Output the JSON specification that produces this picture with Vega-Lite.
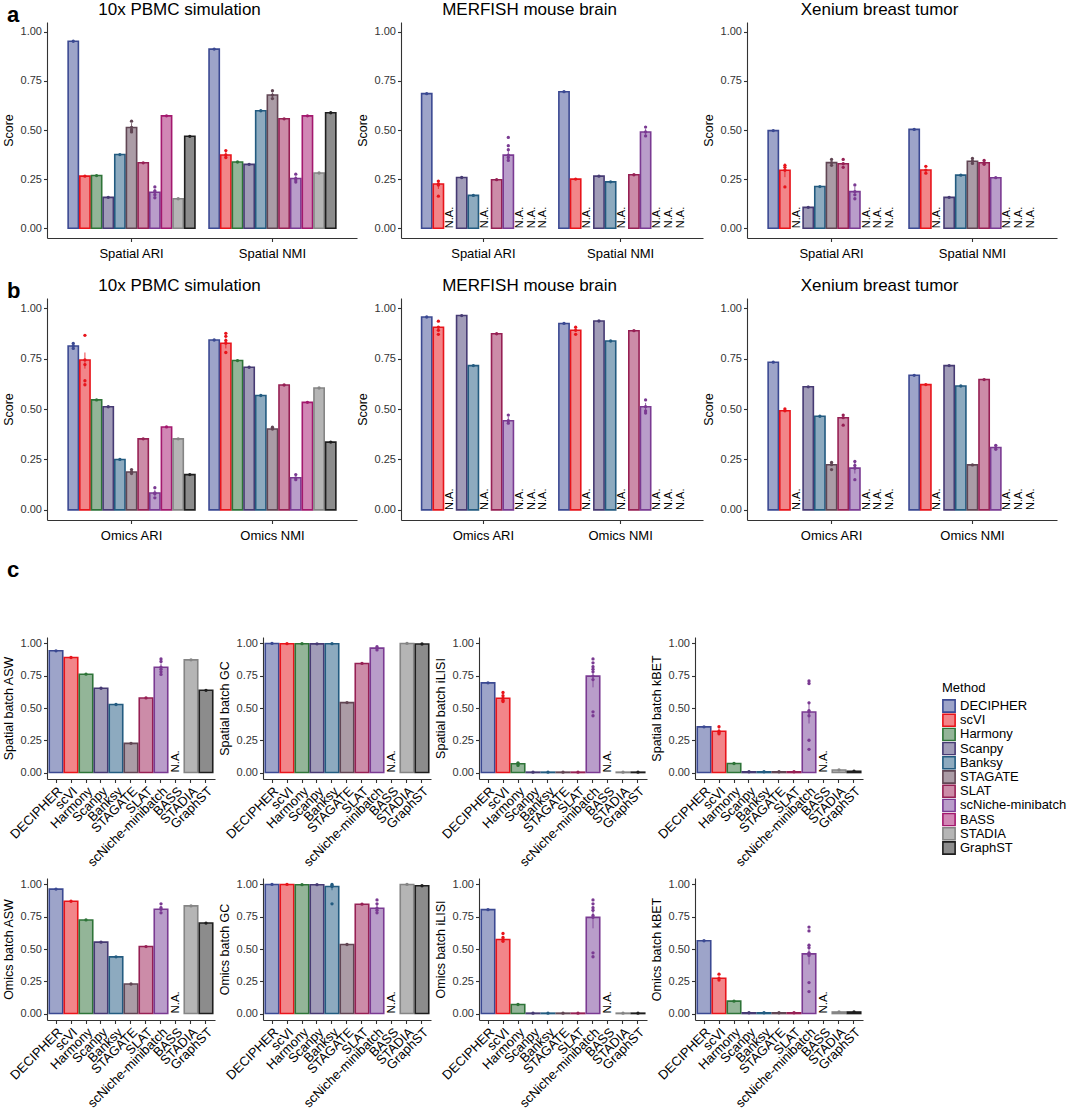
{
  "$schema": "https://vega.github.io/schema/vega-lite/v6.json",
  "background": "white",
  "padding": {"left": 2, "top": 1, "right": 4, "bottom": 4},
  "data": {"name": "scores"},
  "datasets": {
    "scores": [
      {"panel": "a", "dataset": "10x PBMC simulation", "metric": "Spatial ARI", "method": "DECIPHER", "score": 0.952, "kind": "bar"},
      {"panel": "a", "dataset": "10x PBMC simulation", "metric": "Spatial ARI", "method": "scVI", "score": 0.265, "kind": "bar"},
      {"panel": "a", "dataset": "10x PBMC simulation", "metric": "Spatial ARI", "method": "Harmony", "score": 0.268, "kind": "bar"},
      {"panel": "a", "dataset": "10x PBMC simulation", "metric": "Spatial ARI", "method": "Scanpy", "score": 0.157, "kind": "bar"},
      {"panel": "a", "dataset": "10x PBMC simulation", "metric": "Spatial ARI", "method": "Banksy", "score": 0.375, "kind": "bar"},
      {"panel": "a", "dataset": "10x PBMC simulation", "metric": "Spatial ARI", "method": "STAGATE", "score": 0.513, "lo": 0.49, "hi": 0.535, "kind": "bar"},
      {"panel": "a", "dataset": "10x PBMC simulation", "metric": "Spatial ARI", "method": "SLAT", "score": 0.333, "kind": "bar"},
      {"panel": "a", "dataset": "10x PBMC simulation", "metric": "Spatial ARI", "method": "scNiche-minibatch", "score": 0.183, "lo": 0.165, "hi": 0.2, "kind": "bar"},
      {"panel": "a", "dataset": "10x PBMC simulation", "metric": "Spatial ARI", "method": "BASS", "score": 0.572, "kind": "bar"},
      {"panel": "a", "dataset": "10x PBMC simulation", "metric": "Spatial ARI", "method": "STADIA", "score": 0.15, "kind": "bar"},
      {"panel": "a", "dataset": "10x PBMC simulation", "metric": "Spatial ARI", "method": "GraphST", "score": 0.468, "kind": "bar"},
      {"panel": "a", "dataset": "10x PBMC simulation", "metric": "Spatial NMI", "method": "DECIPHER", "score": 0.912, "kind": "bar"},
      {"panel": "a", "dataset": "10x PBMC simulation", "metric": "Spatial NMI", "method": "scVI", "score": 0.373, "lo": 0.36, "hi": 0.39, "kind": "bar"},
      {"panel": "a", "dataset": "10x PBMC simulation", "metric": "Spatial NMI", "method": "Harmony", "score": 0.337, "kind": "bar"},
      {"panel": "a", "dataset": "10x PBMC simulation", "metric": "Spatial NMI", "method": "Scanpy", "score": 0.325, "kind": "bar"},
      {"panel": "a", "dataset": "10x PBMC simulation", "metric": "Spatial NMI", "method": "Banksy", "score": 0.598, "kind": "bar"},
      {"panel": "a", "dataset": "10x PBMC simulation", "metric": "Spatial NMI", "method": "STAGATE", "score": 0.678, "lo": 0.665, "hi": 0.69, "kind": "bar"},
      {"panel": "a", "dataset": "10x PBMC simulation", "metric": "Spatial NMI", "method": "SLAT", "score": 0.557, "kind": "bar"},
      {"panel": "a", "dataset": "10x PBMC simulation", "metric": "Spatial NMI", "method": "scNiche-minibatch", "score": 0.253, "lo": 0.24, "hi": 0.265, "kind": "bar"},
      {"panel": "a", "dataset": "10x PBMC simulation", "metric": "Spatial NMI", "method": "BASS", "score": 0.572, "kind": "bar"},
      {"panel": "a", "dataset": "10x PBMC simulation", "metric": "Spatial NMI", "method": "STADIA", "score": 0.281, "kind": "bar"},
      {"panel": "a", "dataset": "10x PBMC simulation", "metric": "Spatial NMI", "method": "GraphST", "score": 0.588, "kind": "bar"},
      {"panel": "a", "dataset": "10x PBMC simulation", "metric": "Spatial ARI", "method": "STAGATE", "score": 0.545, "kind": "rep"},
      {"panel": "a", "dataset": "10x PBMC simulation", "metric": "Spatial ARI", "method": "STAGATE", "score": 0.49, "kind": "rep"},
      {"panel": "a", "dataset": "10x PBMC simulation", "metric": "Spatial ARI", "method": "STAGATE", "score": 0.5, "kind": "rep"},
      {"panel": "a", "dataset": "10x PBMC simulation", "metric": "Spatial ARI", "method": "scNiche-minibatch", "score": 0.21, "kind": "rep"},
      {"panel": "a", "dataset": "10x PBMC simulation", "metric": "Spatial ARI", "method": "scNiche-minibatch", "score": 0.155, "kind": "rep"},
      {"panel": "a", "dataset": "10x PBMC simulation", "metric": "Spatial ARI", "method": "scNiche-minibatch", "score": 0.17, "kind": "rep"},
      {"panel": "a", "dataset": "10x PBMC simulation", "metric": "Spatial ARI", "method": "scNiche-minibatch", "score": 0.19, "kind": "rep"},
      {"panel": "a", "dataset": "10x PBMC simulation", "metric": "Spatial NMI", "method": "scVI", "score": 0.395, "kind": "rep"},
      {"panel": "a", "dataset": "10x PBMC simulation", "metric": "Spatial NMI", "method": "scVI", "score": 0.36, "kind": "rep"},
      {"panel": "a", "dataset": "10x PBMC simulation", "metric": "Spatial NMI", "method": "STAGATE", "score": 0.7, "kind": "rep"},
      {"panel": "a", "dataset": "10x PBMC simulation", "metric": "Spatial NMI", "method": "STAGATE", "score": 0.66, "kind": "rep"},
      {"panel": "a", "dataset": "10x PBMC simulation", "metric": "Spatial NMI", "method": "scNiche-minibatch", "score": 0.275, "kind": "rep"},
      {"panel": "a", "dataset": "10x PBMC simulation", "metric": "Spatial NMI", "method": "scNiche-minibatch", "score": 0.235, "kind": "rep"},
      {"panel": "a", "dataset": "10x PBMC simulation", "metric": "Spatial NMI", "method": "scNiche-minibatch", "score": 0.245, "kind": "rep"},

      {"panel": "a", "dataset": "MERFISH mouse brain", "metric": "Spatial ARI", "method": "DECIPHER", "score": 0.685, "kind": "bar"},
      {"panel": "a", "dataset": "MERFISH mouse brain", "metric": "Spatial ARI", "method": "scVI", "score": 0.225, "lo": 0.2, "hi": 0.245, "kind": "bar"},
      {"panel": "a", "dataset": "MERFISH mouse brain", "metric": "Spatial ARI", "method": "Harmony", "kind": "na"},
      {"panel": "a", "dataset": "MERFISH mouse brain", "metric": "Spatial ARI", "method": "Scanpy", "score": 0.258, "kind": "bar"},
      {"panel": "a", "dataset": "MERFISH mouse brain", "metric": "Spatial ARI", "method": "Banksy", "score": 0.167, "kind": "bar"},
      {"panel": "a", "dataset": "MERFISH mouse brain", "metric": "Spatial ARI", "method": "STAGATE", "kind": "na"},
      {"panel": "a", "dataset": "MERFISH mouse brain", "metric": "Spatial ARI", "method": "SLAT", "score": 0.247, "kind": "bar"},
      {"panel": "a", "dataset": "MERFISH mouse brain", "metric": "Spatial ARI", "method": "scNiche-minibatch", "score": 0.372, "lo": 0.35, "hi": 0.395, "kind": "bar"},
      {"panel": "a", "dataset": "MERFISH mouse brain", "metric": "Spatial ARI", "method": "BASS", "kind": "na"},
      {"panel": "a", "dataset": "MERFISH mouse brain", "metric": "Spatial ARI", "method": "STADIA", "kind": "na"},
      {"panel": "a", "dataset": "MERFISH mouse brain", "metric": "Spatial ARI", "method": "GraphST", "kind": "na"},
      {"panel": "a", "dataset": "MERFISH mouse brain", "metric": "Spatial NMI", "method": "DECIPHER", "score": 0.695, "kind": "bar"},
      {"panel": "a", "dataset": "MERFISH mouse brain", "metric": "Spatial NMI", "method": "scVI", "score": 0.25, "kind": "bar"},
      {"panel": "a", "dataset": "MERFISH mouse brain", "metric": "Spatial NMI", "method": "Harmony", "kind": "na"},
      {"panel": "a", "dataset": "MERFISH mouse brain", "metric": "Spatial NMI", "method": "Scanpy", "score": 0.265, "kind": "bar"},
      {"panel": "a", "dataset": "MERFISH mouse brain", "metric": "Spatial NMI", "method": "Banksy", "score": 0.236, "kind": "bar"},
      {"panel": "a", "dataset": "MERFISH mouse brain", "metric": "Spatial NMI", "method": "STAGATE", "kind": "na"},
      {"panel": "a", "dataset": "MERFISH mouse brain", "metric": "Spatial NMI", "method": "SLAT", "score": 0.272, "kind": "bar"},
      {"panel": "a", "dataset": "MERFISH mouse brain", "metric": "Spatial NMI", "method": "scNiche-minibatch", "score": 0.49, "lo": 0.475, "hi": 0.505, "kind": "bar"},
      {"panel": "a", "dataset": "MERFISH mouse brain", "metric": "Spatial NMI", "method": "BASS", "kind": "na"},
      {"panel": "a", "dataset": "MERFISH mouse brain", "metric": "Spatial NMI", "method": "STADIA", "kind": "na"},
      {"panel": "a", "dataset": "MERFISH mouse brain", "metric": "Spatial NMI", "method": "GraphST", "kind": "na"},
      {"panel": "a", "dataset": "MERFISH mouse brain", "metric": "Spatial ARI", "method": "scVI", "score": 0.24, "kind": "rep"},
      {"panel": "a", "dataset": "MERFISH mouse brain", "metric": "Spatial ARI", "method": "scVI", "score": 0.163, "kind": "rep"},
      {"panel": "a", "dataset": "MERFISH mouse brain", "metric": "Spatial ARI", "method": "scVI", "score": 0.22, "kind": "rep"},
      {"panel": "a", "dataset": "MERFISH mouse brain", "metric": "Spatial ARI", "method": "scNiche-minibatch", "score": 0.462, "kind": "rep"},
      {"panel": "a", "dataset": "MERFISH mouse brain", "metric": "Spatial ARI", "method": "scNiche-minibatch", "score": 0.42, "kind": "rep"},
      {"panel": "a", "dataset": "MERFISH mouse brain", "metric": "Spatial ARI", "method": "scNiche-minibatch", "score": 0.4, "kind": "rep"},
      {"panel": "a", "dataset": "MERFISH mouse brain", "metric": "Spatial ARI", "method": "scNiche-minibatch", "score": 0.36, "kind": "rep"},
      {"panel": "a", "dataset": "MERFISH mouse brain", "metric": "Spatial ARI", "method": "scNiche-minibatch", "score": 0.345, "kind": "rep"},
      {"panel": "a", "dataset": "MERFISH mouse brain", "metric": "Spatial NMI", "method": "scNiche-minibatch", "score": 0.515, "kind": "rep"},
      {"panel": "a", "dataset": "MERFISH mouse brain", "metric": "Spatial NMI", "method": "scNiche-minibatch", "score": 0.47, "kind": "rep"},

      {"panel": "a", "dataset": "Xenium breast tumor", "metric": "Spatial ARI", "method": "DECIPHER", "score": 0.497, "kind": "bar"},
      {"panel": "a", "dataset": "Xenium breast tumor", "metric": "Spatial ARI", "method": "scVI", "score": 0.295, "lo": 0.26, "hi": 0.33, "kind": "bar"},
      {"panel": "a", "dataset": "Xenium breast tumor", "metric": "Spatial ARI", "method": "Harmony", "kind": "na"},
      {"panel": "a", "dataset": "Xenium breast tumor", "metric": "Spatial ARI", "method": "Scanpy", "score": 0.106, "kind": "bar"},
      {"panel": "a", "dataset": "Xenium breast tumor", "metric": "Spatial ARI", "method": "Banksy", "score": 0.212, "kind": "bar"},
      {"panel": "a", "dataset": "Xenium breast tumor", "metric": "Spatial ARI", "method": "STAGATE", "score": 0.334, "kind": "bar"},
      {"panel": "a", "dataset": "Xenium breast tumor", "metric": "Spatial ARI", "method": "SLAT", "score": 0.328, "kind": "bar"},
      {"panel": "a", "dataset": "Xenium breast tumor", "metric": "Spatial ARI", "method": "scNiche-minibatch", "score": 0.186, "lo": 0.165, "hi": 0.21, "kind": "bar"},
      {"panel": "a", "dataset": "Xenium breast tumor", "metric": "Spatial ARI", "method": "BASS", "kind": "na"},
      {"panel": "a", "dataset": "Xenium breast tumor", "metric": "Spatial ARI", "method": "STADIA", "kind": "na"},
      {"panel": "a", "dataset": "Xenium breast tumor", "metric": "Spatial ARI", "method": "GraphST", "kind": "na"},
      {"panel": "a", "dataset": "Xenium breast tumor", "metric": "Spatial NMI", "method": "DECIPHER", "score": 0.503, "kind": "bar"},
      {"panel": "a", "dataset": "Xenium breast tumor", "metric": "Spatial NMI", "method": "scVI", "score": 0.296, "kind": "bar"},
      {"panel": "a", "dataset": "Xenium breast tumor", "metric": "Spatial NMI", "method": "Harmony", "kind": "na"},
      {"panel": "a", "dataset": "Xenium breast tumor", "metric": "Spatial NMI", "method": "Scanpy", "score": 0.157, "kind": "bar"},
      {"panel": "a", "dataset": "Xenium breast tumor", "metric": "Spatial NMI", "method": "Banksy", "score": 0.27, "kind": "bar"},
      {"panel": "a", "dataset": "Xenium breast tumor", "metric": "Spatial NMI", "method": "STAGATE", "score": 0.341, "kind": "bar"},
      {"panel": "a", "dataset": "Xenium breast tumor", "metric": "Spatial NMI", "method": "SLAT", "score": 0.333, "kind": "bar"},
      {"panel": "a", "dataset": "Xenium breast tumor", "metric": "Spatial NMI", "method": "scNiche-minibatch", "score": 0.257, "kind": "bar"},
      {"panel": "a", "dataset": "Xenium breast tumor", "metric": "Spatial NMI", "method": "BASS", "kind": "na"},
      {"panel": "a", "dataset": "Xenium breast tumor", "metric": "Spatial NMI", "method": "STADIA", "kind": "na"},
      {"panel": "a", "dataset": "Xenium breast tumor", "metric": "Spatial NMI", "method": "GraphST", "kind": "na"},
      {"panel": "a", "dataset": "Xenium breast tumor", "metric": "Spatial ARI", "method": "scVI", "score": 0.32, "kind": "rep"},
      {"panel": "a", "dataset": "Xenium breast tumor", "metric": "Spatial ARI", "method": "scVI", "score": 0.31, "kind": "rep"},
      {"panel": "a", "dataset": "Xenium breast tumor", "metric": "Spatial ARI", "method": "scVI", "score": 0.21, "kind": "rep"},
      {"panel": "a", "dataset": "Xenium breast tumor", "metric": "Spatial ARI", "method": "STAGATE", "score": 0.35, "kind": "rep"},
      {"panel": "a", "dataset": "Xenium breast tumor", "metric": "Spatial ARI", "method": "STAGATE", "score": 0.32, "kind": "rep"},
      {"panel": "a", "dataset": "Xenium breast tumor", "metric": "Spatial ARI", "method": "SLAT", "score": 0.35, "kind": "rep"},
      {"panel": "a", "dataset": "Xenium breast tumor", "metric": "Spatial ARI", "method": "SLAT", "score": 0.31, "kind": "rep"},
      {"panel": "a", "dataset": "Xenium breast tumor", "metric": "Spatial ARI", "method": "scNiche-minibatch", "score": 0.22, "kind": "rep"},
      {"panel": "a", "dataset": "Xenium breast tumor", "metric": "Spatial ARI", "method": "scNiche-minibatch", "score": 0.17, "kind": "rep"},
      {"panel": "a", "dataset": "Xenium breast tumor", "metric": "Spatial ARI", "method": "scNiche-minibatch", "score": 0.15, "kind": "rep"},
      {"panel": "a", "dataset": "Xenium breast tumor", "metric": "Spatial NMI", "method": "scVI", "score": 0.315, "kind": "rep"},
      {"panel": "a", "dataset": "Xenium breast tumor", "metric": "Spatial NMI", "method": "scVI", "score": 0.28, "kind": "rep"},
      {"panel": "a", "dataset": "Xenium breast tumor", "metric": "Spatial NMI", "method": "STAGATE", "score": 0.355, "kind": "rep"},
      {"panel": "a", "dataset": "Xenium breast tumor", "metric": "Spatial NMI", "method": "STAGATE", "score": 0.33, "kind": "rep"},
      {"panel": "a", "dataset": "Xenium breast tumor", "metric": "Spatial NMI", "method": "SLAT", "score": 0.345, "kind": "rep"},
      {"panel": "a", "dataset": "Xenium breast tumor", "metric": "Spatial NMI", "method": "SLAT", "score": 0.325, "kind": "rep"},

      {"panel": "b", "dataset": "10x PBMC simulation", "metric": "Omics ARI", "method": "DECIPHER", "score": 0.812, "kind": "bar"},
      {"panel": "b", "dataset": "10x PBMC simulation", "metric": "Omics ARI", "method": "scVI", "score": 0.743, "lo": 0.7, "hi": 0.78, "kind": "bar"},
      {"panel": "b", "dataset": "10x PBMC simulation", "metric": "Omics ARI", "method": "Harmony", "score": 0.545, "kind": "bar"},
      {"panel": "b", "dataset": "10x PBMC simulation", "metric": "Omics ARI", "method": "Scanpy", "score": 0.511, "kind": "bar"},
      {"panel": "b", "dataset": "10x PBMC simulation", "metric": "Omics ARI", "method": "Banksy", "score": 0.25, "kind": "bar"},
      {"panel": "b", "dataset": "10x PBMC simulation", "metric": "Omics ARI", "method": "STAGATE", "score": 0.188, "kind": "bar"},
      {"panel": "b", "dataset": "10x PBMC simulation", "metric": "Omics ARI", "method": "SLAT", "score": 0.352, "kind": "bar"},
      {"panel": "b", "dataset": "10x PBMC simulation", "metric": "Omics ARI", "method": "scNiche-minibatch", "score": 0.084, "lo": 0.07, "hi": 0.1, "kind": "bar"},
      {"panel": "b", "dataset": "10x PBMC simulation", "metric": "Omics ARI", "method": "BASS", "score": 0.411, "kind": "bar"},
      {"panel": "b", "dataset": "10x PBMC simulation", "metric": "Omics ARI", "method": "STADIA", "score": 0.352, "kind": "bar"},
      {"panel": "b", "dataset": "10x PBMC simulation", "metric": "Omics ARI", "method": "GraphST", "score": 0.175, "kind": "bar"},
      {"panel": "b", "dataset": "10x PBMC simulation", "metric": "Omics NMI", "method": "DECIPHER", "score": 0.842, "kind": "bar"},
      {"panel": "b", "dataset": "10x PBMC simulation", "metric": "Omics NMI", "method": "scVI", "score": 0.826, "lo": 0.8, "hi": 0.85, "kind": "bar"},
      {"panel": "b", "dataset": "10x PBMC simulation", "metric": "Omics NMI", "method": "Harmony", "score": 0.74, "kind": "bar"},
      {"panel": "b", "dataset": "10x PBMC simulation", "metric": "Omics NMI", "method": "Scanpy", "score": 0.707, "kind": "bar"},
      {"panel": "b", "dataset": "10x PBMC simulation", "metric": "Omics NMI", "method": "Banksy", "score": 0.567, "kind": "bar"},
      {"panel": "b", "dataset": "10x PBMC simulation", "metric": "Omics NMI", "method": "STAGATE", "score": 0.401, "kind": "bar"},
      {"panel": "b", "dataset": "10x PBMC simulation", "metric": "Omics NMI", "method": "SLAT", "score": 0.619, "kind": "bar"},
      {"panel": "b", "dataset": "10x PBMC simulation", "metric": "Omics NMI", "method": "scNiche-minibatch", "score": 0.159, "kind": "bar"},
      {"panel": "b", "dataset": "10x PBMC simulation", "metric": "Omics NMI", "method": "BASS", "score": 0.533, "kind": "bar"},
      {"panel": "b", "dataset": "10x PBMC simulation", "metric": "Omics NMI", "method": "STADIA", "score": 0.604, "kind": "bar"},
      {"panel": "b", "dataset": "10x PBMC simulation", "metric": "Omics NMI", "method": "GraphST", "score": 0.336, "kind": "bar"},
      {"panel": "b", "dataset": "10x PBMC simulation", "metric": "Omics ARI", "method": "DECIPHER", "score": 0.825, "kind": "rep"},
      {"panel": "b", "dataset": "10x PBMC simulation", "metric": "Omics ARI", "method": "DECIPHER", "score": 0.8, "kind": "rep"},
      {"panel": "b", "dataset": "10x PBMC simulation", "metric": "Omics ARI", "method": "scVI", "score": 0.865, "kind": "rep"},
      {"panel": "b", "dataset": "10x PBMC simulation", "metric": "Omics ARI", "method": "scVI", "score": 0.72, "kind": "rep"},
      {"panel": "b", "dataset": "10x PBMC simulation", "metric": "Omics ARI", "method": "scVI", "score": 0.64, "kind": "rep"},
      {"panel": "b", "dataset": "10x PBMC simulation", "metric": "Omics ARI", "method": "scVI", "score": 0.62, "kind": "rep"},
      {"panel": "b", "dataset": "10x PBMC simulation", "metric": "Omics ARI", "method": "STAGATE", "score": 0.2, "kind": "rep"},
      {"panel": "b", "dataset": "10x PBMC simulation", "metric": "Omics ARI", "method": "STAGATE", "score": 0.18, "kind": "rep"},
      {"panel": "b", "dataset": "10x PBMC simulation", "metric": "Omics ARI", "method": "scNiche-minibatch", "score": 0.11, "kind": "rep"},
      {"panel": "b", "dataset": "10x PBMC simulation", "metric": "Omics ARI", "method": "scNiche-minibatch", "score": 0.06, "kind": "rep"},
      {"panel": "b", "dataset": "10x PBMC simulation", "metric": "Omics ARI", "method": "scNiche-minibatch", "score": 0.08, "kind": "rep"},
      {"panel": "b", "dataset": "10x PBMC simulation", "metric": "Omics NMI", "method": "scVI", "score": 0.875, "kind": "rep"},
      {"panel": "b", "dataset": "10x PBMC simulation", "metric": "Omics NMI", "method": "scVI", "score": 0.86, "kind": "rep"},
      {"panel": "b", "dataset": "10x PBMC simulation", "metric": "Omics NMI", "method": "scVI", "score": 0.84, "kind": "rep"},
      {"panel": "b", "dataset": "10x PBMC simulation", "metric": "Omics NMI", "method": "scVI", "score": 0.78, "kind": "rep"},
      {"panel": "b", "dataset": "10x PBMC simulation", "metric": "Omics NMI", "method": "STAGATE", "score": 0.41, "kind": "rep"},
      {"panel": "b", "dataset": "10x PBMC simulation", "metric": "Omics NMI", "method": "scNiche-minibatch", "score": 0.175, "kind": "rep"},
      {"panel": "b", "dataset": "10x PBMC simulation", "metric": "Omics NMI", "method": "scNiche-minibatch", "score": 0.15, "kind": "rep"},

      {"panel": "b", "dataset": "MERFISH mouse brain", "metric": "Omics ARI", "method": "DECIPHER", "score": 0.956, "kind": "bar"},
      {"panel": "b", "dataset": "MERFISH mouse brain", "metric": "Omics ARI", "method": "scVI", "score": 0.905, "kind": "bar"},
      {"panel": "b", "dataset": "MERFISH mouse brain", "metric": "Omics ARI", "method": "Harmony", "kind": "na"},
      {"panel": "b", "dataset": "MERFISH mouse brain", "metric": "Omics ARI", "method": "Scanpy", "score": 0.963, "kind": "bar"},
      {"panel": "b", "dataset": "MERFISH mouse brain", "metric": "Omics ARI", "method": "Banksy", "score": 0.715, "kind": "bar"},
      {"panel": "b", "dataset": "MERFISH mouse brain", "metric": "Omics ARI", "method": "STAGATE", "kind": "na"},
      {"panel": "b", "dataset": "MERFISH mouse brain", "metric": "Omics ARI", "method": "SLAT", "score": 0.873, "kind": "bar"},
      {"panel": "b", "dataset": "MERFISH mouse brain", "metric": "Omics ARI", "method": "scNiche-minibatch", "score": 0.442, "lo": 0.425, "hi": 0.46, "kind": "bar"},
      {"panel": "b", "dataset": "MERFISH mouse brain", "metric": "Omics ARI", "method": "BASS", "kind": "na"},
      {"panel": "b", "dataset": "MERFISH mouse brain", "metric": "Omics ARI", "method": "STADIA", "kind": "na"},
      {"panel": "b", "dataset": "MERFISH mouse brain", "metric": "Omics ARI", "method": "GraphST", "kind": "na"},
      {"panel": "b", "dataset": "MERFISH mouse brain", "metric": "Omics NMI", "method": "DECIPHER", "score": 0.924, "kind": "bar"},
      {"panel": "b", "dataset": "MERFISH mouse brain", "metric": "Omics NMI", "method": "scVI", "score": 0.89, "kind": "bar"},
      {"panel": "b", "dataset": "MERFISH mouse brain", "metric": "Omics NMI", "method": "Harmony", "kind": "na"},
      {"panel": "b", "dataset": "MERFISH mouse brain", "metric": "Omics NMI", "method": "Scanpy", "score": 0.936, "kind": "bar"},
      {"panel": "b", "dataset": "MERFISH mouse brain", "metric": "Omics NMI", "method": "Banksy", "score": 0.837, "kind": "bar"},
      {"panel": "b", "dataset": "MERFISH mouse brain", "metric": "Omics NMI", "method": "STAGATE", "kind": "na"},
      {"panel": "b", "dataset": "MERFISH mouse brain", "metric": "Omics NMI", "method": "SLAT", "score": 0.888, "kind": "bar"},
      {"panel": "b", "dataset": "MERFISH mouse brain", "metric": "Omics NMI", "method": "scNiche-minibatch", "score": 0.511, "lo": 0.49, "hi": 0.53, "kind": "bar"},
      {"panel": "b", "dataset": "MERFISH mouse brain", "metric": "Omics NMI", "method": "BASS", "kind": "na"},
      {"panel": "b", "dataset": "MERFISH mouse brain", "metric": "Omics NMI", "method": "STADIA", "kind": "na"},
      {"panel": "b", "dataset": "MERFISH mouse brain", "metric": "Omics NMI", "method": "GraphST", "kind": "na"},
      {"panel": "b", "dataset": "MERFISH mouse brain", "metric": "Omics ARI", "method": "scVI", "score": 0.935, "kind": "rep"},
      {"panel": "b", "dataset": "MERFISH mouse brain", "metric": "Omics ARI", "method": "scVI", "score": 0.89, "kind": "rep"},
      {"panel": "b", "dataset": "MERFISH mouse brain", "metric": "Omics ARI", "method": "scVI", "score": 0.87, "kind": "rep"},
      {"panel": "b", "dataset": "MERFISH mouse brain", "metric": "Omics ARI", "method": "scNiche-minibatch", "score": 0.47, "kind": "rep"},
      {"panel": "b", "dataset": "MERFISH mouse brain", "metric": "Omics ARI", "method": "scNiche-minibatch", "score": 0.43, "kind": "rep"},
      {"panel": "b", "dataset": "MERFISH mouse brain", "metric": "Omics NMI", "method": "scVI", "score": 0.905, "kind": "rep"},
      {"panel": "b", "dataset": "MERFISH mouse brain", "metric": "Omics NMI", "method": "scVI", "score": 0.87, "kind": "rep"},
      {"panel": "b", "dataset": "MERFISH mouse brain", "metric": "Omics NMI", "method": "scNiche-minibatch", "score": 0.545, "kind": "rep"},
      {"panel": "b", "dataset": "MERFISH mouse brain", "metric": "Omics NMI", "method": "scNiche-minibatch", "score": 0.49, "kind": "rep"},
      {"panel": "b", "dataset": "MERFISH mouse brain", "metric": "Omics NMI", "method": "scNiche-minibatch", "score": 0.48, "kind": "rep"},

      {"panel": "b", "dataset": "Xenium breast tumor", "metric": "Omics ARI", "method": "DECIPHER", "score": 0.732, "kind": "bar"},
      {"panel": "b", "dataset": "Xenium breast tumor", "metric": "Omics ARI", "method": "scVI", "score": 0.491, "kind": "bar"},
      {"panel": "b", "dataset": "Xenium breast tumor", "metric": "Omics ARI", "method": "Harmony", "kind": "na"},
      {"panel": "b", "dataset": "Xenium breast tumor", "metric": "Omics ARI", "method": "Scanpy", "score": 0.61, "kind": "bar"},
      {"panel": "b", "dataset": "Xenium breast tumor", "metric": "Omics ARI", "method": "Banksy", "score": 0.464, "kind": "bar"},
      {"panel": "b", "dataset": "Xenium breast tumor", "metric": "Omics ARI", "method": "STAGATE", "score": 0.224, "kind": "bar"},
      {"panel": "b", "dataset": "Xenium breast tumor", "metric": "Omics ARI", "method": "SLAT", "score": 0.457, "kind": "bar"},
      {"panel": "b", "dataset": "Xenium breast tumor", "metric": "Omics ARI", "method": "scNiche-minibatch", "score": 0.207, "lo": 0.18, "hi": 0.235, "kind": "bar"},
      {"panel": "b", "dataset": "Xenium breast tumor", "metric": "Omics ARI", "method": "BASS", "kind": "na"},
      {"panel": "b", "dataset": "Xenium breast tumor", "metric": "Omics ARI", "method": "STADIA", "kind": "na"},
      {"panel": "b", "dataset": "Xenium breast tumor", "metric": "Omics ARI", "method": "GraphST", "kind": "na"},
      {"panel": "b", "dataset": "Xenium breast tumor", "metric": "Omics NMI", "method": "DECIPHER", "score": 0.667, "kind": "bar"},
      {"panel": "b", "dataset": "Xenium breast tumor", "metric": "Omics NMI", "method": "scVI", "score": 0.621, "kind": "bar"},
      {"panel": "b", "dataset": "Xenium breast tumor", "metric": "Omics NMI", "method": "Harmony", "kind": "na"},
      {"panel": "b", "dataset": "Xenium breast tumor", "metric": "Omics NMI", "method": "Scanpy", "score": 0.715, "kind": "bar"},
      {"panel": "b", "dataset": "Xenium breast tumor", "metric": "Omics NMI", "method": "Banksy", "score": 0.614, "kind": "bar"},
      {"panel": "b", "dataset": "Xenium breast tumor", "metric": "Omics NMI", "method": "STAGATE", "score": 0.223, "kind": "bar"},
      {"panel": "b", "dataset": "Xenium breast tumor", "metric": "Omics NMI", "method": "SLAT", "score": 0.646, "kind": "bar"},
      {"panel": "b", "dataset": "Xenium breast tumor", "metric": "Omics NMI", "method": "scNiche-minibatch", "score": 0.309, "kind": "bar"},
      {"panel": "b", "dataset": "Xenium breast tumor", "metric": "Omics NMI", "method": "BASS", "kind": "na"},
      {"panel": "b", "dataset": "Xenium breast tumor", "metric": "Omics NMI", "method": "STADIA", "kind": "na"},
      {"panel": "b", "dataset": "Xenium breast tumor", "metric": "Omics NMI", "method": "GraphST", "kind": "na"},
      {"panel": "b", "dataset": "Xenium breast tumor", "metric": "Omics ARI", "method": "scVI", "score": 0.5, "kind": "rep"},
      {"panel": "b", "dataset": "Xenium breast tumor", "metric": "Omics ARI", "method": "STAGATE", "score": 0.235, "kind": "rep"},
      {"panel": "b", "dataset": "Xenium breast tumor", "metric": "Omics ARI", "method": "STAGATE", "score": 0.2, "kind": "rep"},
      {"panel": "b", "dataset": "Xenium breast tumor", "metric": "Omics ARI", "method": "SLAT", "score": 0.47, "kind": "rep"},
      {"panel": "b", "dataset": "Xenium breast tumor", "metric": "Omics ARI", "method": "SLAT", "score": 0.42, "kind": "rep"},
      {"panel": "b", "dataset": "Xenium breast tumor", "metric": "Omics ARI", "method": "scNiche-minibatch", "score": 0.24, "kind": "rep"},
      {"panel": "b", "dataset": "Xenium breast tumor", "metric": "Omics ARI", "method": "scNiche-minibatch", "score": 0.15, "kind": "rep"},
      {"panel": "b", "dataset": "Xenium breast tumor", "metric": "Omics ARI", "method": "scNiche-minibatch", "score": 0.22, "kind": "rep"},
      {"panel": "b", "dataset": "Xenium breast tumor", "metric": "Omics NMI", "method": "scNiche-minibatch", "score": 0.32, "kind": "rep"},
      {"panel": "b", "dataset": "Xenium breast tumor", "metric": "Omics NMI", "method": "scNiche-minibatch", "score": 0.3, "kind": "rep"},

      {"panel": "c", "dataset": "Spatial batch ASW", "metric": "ASW", "method": "DECIPHER", "score": 0.943, "kind": "bar"},
      {"panel": "c", "dataset": "Spatial batch ASW", "metric": "ASW", "method": "scVI", "score": 0.891, "kind": "bar"},
      {"panel": "c", "dataset": "Spatial batch ASW", "metric": "ASW", "method": "Harmony", "score": 0.762, "kind": "bar"},
      {"panel": "c", "dataset": "Spatial batch ASW", "metric": "ASW", "method": "Scanpy", "score": 0.653, "kind": "bar"},
      {"panel": "c", "dataset": "Spatial batch ASW", "metric": "ASW", "method": "Banksy", "score": 0.527, "kind": "bar"},
      {"panel": "c", "dataset": "Spatial batch ASW", "metric": "ASW", "method": "STAGATE", "score": 0.226, "kind": "bar"},
      {"panel": "c", "dataset": "Spatial batch ASW", "metric": "ASW", "method": "SLAT", "score": 0.578, "kind": "bar"},
      {"panel": "c", "dataset": "Spatial batch ASW", "metric": "ASW", "method": "scNiche-minibatch", "score": 0.816, "lo": 0.79, "hi": 0.845, "kind": "bar"},
      {"panel": "c", "dataset": "Spatial batch ASW", "metric": "ASW", "method": "BASS", "kind": "na"},
      {"panel": "c", "dataset": "Spatial batch ASW", "metric": "ASW", "method": "STADIA", "score": 0.873, "kind": "bar"},
      {"panel": "c", "dataset": "Spatial batch ASW", "metric": "ASW", "method": "GraphST", "score": 0.637, "kind": "bar"},
      {"panel": "c", "dataset": "Spatial batch ASW", "metric": "ASW", "method": "scNiche-minibatch", "score": 0.88, "kind": "rep"},
      {"panel": "c", "dataset": "Spatial batch ASW", "metric": "ASW", "method": "scNiche-minibatch", "score": 0.86, "kind": "rep"},
      {"panel": "c", "dataset": "Spatial batch ASW", "metric": "ASW", "method": "scNiche-minibatch", "score": 0.8, "kind": "rep"},
      {"panel": "c", "dataset": "Spatial batch ASW", "metric": "ASW", "method": "scNiche-minibatch", "score": 0.78, "kind": "rep"},
      {"panel": "c", "dataset": "Spatial batch ASW", "metric": "ASW", "method": "scNiche-minibatch", "score": 0.76, "kind": "rep"},

      {"panel": "c", "dataset": "Spatial batch GC", "metric": "GC", "method": "DECIPHER", "score": 1.0, "kind": "bar"},
      {"panel": "c", "dataset": "Spatial batch GC", "metric": "GC", "method": "scVI", "score": 0.998, "kind": "bar"},
      {"panel": "c", "dataset": "Spatial batch GC", "metric": "GC", "method": "Harmony", "score": 0.998, "kind": "bar"},
      {"panel": "c", "dataset": "Spatial batch GC", "metric": "GC", "method": "Scanpy", "score": 0.997, "kind": "bar"},
      {"panel": "c", "dataset": "Spatial batch GC", "metric": "GC", "method": "Banksy", "score": 0.998, "kind": "bar"},
      {"panel": "c", "dataset": "Spatial batch GC", "metric": "GC", "method": "STAGATE", "score": 0.542, "kind": "bar"},
      {"panel": "c", "dataset": "Spatial batch GC", "metric": "GC", "method": "SLAT", "score": 0.845, "kind": "bar"},
      {"panel": "c", "dataset": "Spatial batch GC", "metric": "GC", "method": "scNiche-minibatch", "score": 0.964, "kind": "bar"},
      {"panel": "c", "dataset": "Spatial batch GC", "metric": "GC", "method": "BASS", "kind": "na"},
      {"panel": "c", "dataset": "Spatial batch GC", "metric": "GC", "method": "STADIA", "score": 1.0, "kind": "bar"},
      {"panel": "c", "dataset": "Spatial batch GC", "metric": "GC", "method": "GraphST", "score": 0.996, "kind": "bar"},
      {"panel": "c", "dataset": "Spatial batch GC", "metric": "GC", "method": "scNiche-minibatch", "score": 0.975, "kind": "rep"},
      {"panel": "c", "dataset": "Spatial batch GC", "metric": "GC", "method": "scNiche-minibatch", "score": 0.95, "kind": "rep"},

      {"panel": "c", "dataset": "Spatial batch iLISI", "metric": "iLISI", "method": "DECIPHER", "score": 0.695, "kind": "bar"},
      {"panel": "c", "dataset": "Spatial batch iLISI", "metric": "iLISI", "method": "scVI", "score": 0.575, "lo": 0.555, "hi": 0.595, "kind": "bar"},
      {"panel": "c", "dataset": "Spatial batch iLISI", "metric": "iLISI", "method": "Harmony", "score": 0.068, "kind": "bar"},
      {"panel": "c", "dataset": "Spatial batch iLISI", "metric": "iLISI", "method": "Scanpy", "score": 0.003, "kind": "bar"},
      {"panel": "c", "dataset": "Spatial batch iLISI", "metric": "iLISI", "method": "Banksy", "score": 0.003, "kind": "bar"},
      {"panel": "c", "dataset": "Spatial batch iLISI", "metric": "iLISI", "method": "STAGATE", "score": 0.003, "kind": "bar"},
      {"panel": "c", "dataset": "Spatial batch iLISI", "metric": "iLISI", "method": "SLAT", "score": 0.003, "kind": "bar"},
      {"panel": "c", "dataset": "Spatial batch iLISI", "metric": "iLISI", "method": "scNiche-minibatch", "score": 0.747, "lo": 0.66, "hi": 0.83, "kind": "bar"},
      {"panel": "c", "dataset": "Spatial batch iLISI", "metric": "iLISI", "method": "BASS", "kind": "na"},
      {"panel": "c", "dataset": "Spatial batch iLISI", "metric": "iLISI", "method": "STADIA", "score": 0.003, "kind": "bar"},
      {"panel": "c", "dataset": "Spatial batch iLISI", "metric": "iLISI", "method": "GraphST", "score": 0.003, "kind": "bar"},
      {"panel": "c", "dataset": "Spatial batch iLISI", "metric": "iLISI", "method": "scVI", "score": 0.62, "kind": "rep"},
      {"panel": "c", "dataset": "Spatial batch iLISI", "metric": "iLISI", "method": "scVI", "score": 0.595, "kind": "rep"},
      {"panel": "c", "dataset": "Spatial batch iLISI", "metric": "iLISI", "method": "scVI", "score": 0.56, "kind": "rep"},
      {"panel": "c", "dataset": "Spatial batch iLISI", "metric": "iLISI", "method": "scVI", "score": 0.55, "kind": "rep"},
      {"panel": "c", "dataset": "Spatial batch iLISI", "metric": "iLISI", "method": "Harmony", "score": 0.075, "kind": "rep"},
      {"panel": "c", "dataset": "Spatial batch iLISI", "metric": "iLISI", "method": "Harmony", "score": 0.055, "kind": "rep"},
      {"panel": "c", "dataset": "Spatial batch iLISI", "metric": "iLISI", "method": "scNiche-minibatch", "score": 0.88, "kind": "rep"},
      {"panel": "c", "dataset": "Spatial batch iLISI", "metric": "iLISI", "method": "scNiche-minibatch", "score": 0.85, "kind": "rep"},
      {"panel": "c", "dataset": "Spatial batch iLISI", "metric": "iLISI", "method": "scNiche-minibatch", "score": 0.82, "kind": "rep"},
      {"panel": "c", "dataset": "Spatial batch iLISI", "metric": "iLISI", "method": "scNiche-minibatch", "score": 0.8, "kind": "rep"},
      {"panel": "c", "dataset": "Spatial batch iLISI", "metric": "iLISI", "method": "scNiche-minibatch", "score": 0.78, "kind": "rep"},
      {"panel": "c", "dataset": "Spatial batch iLISI", "metric": "iLISI", "method": "scNiche-minibatch", "score": 0.72, "kind": "rep"},
      {"panel": "c", "dataset": "Spatial batch iLISI", "metric": "iLISI", "method": "scNiche-minibatch", "score": 0.47, "kind": "rep"},
      {"panel": "c", "dataset": "Spatial batch iLISI", "metric": "iLISI", "method": "scNiche-minibatch", "score": 0.44, "kind": "rep"},

      {"panel": "c", "dataset": "Spatial batch kBET", "metric": "kBET", "method": "DECIPHER", "score": 0.354, "kind": "bar"},
      {"panel": "c", "dataset": "Spatial batch kBET", "metric": "kBET", "method": "scVI", "score": 0.32, "lo": 0.3, "hi": 0.34, "kind": "bar"},
      {"panel": "c", "dataset": "Spatial batch kBET", "metric": "kBET", "method": "Harmony", "score": 0.07, "kind": "bar"},
      {"panel": "c", "dataset": "Spatial batch kBET", "metric": "kBET", "method": "Scanpy", "score": 0.006, "kind": "bar"},
      {"panel": "c", "dataset": "Spatial batch kBET", "metric": "kBET", "method": "Banksy", "score": 0.006, "kind": "bar"},
      {"panel": "c", "dataset": "Spatial batch kBET", "metric": "kBET", "method": "STAGATE", "score": 0.006, "kind": "bar"},
      {"panel": "c", "dataset": "Spatial batch kBET", "metric": "kBET", "method": "SLAT", "score": 0.006, "kind": "bar"},
      {"panel": "c", "dataset": "Spatial batch kBET", "metric": "kBET", "method": "scNiche-minibatch", "score": 0.469, "lo": 0.38, "hi": 0.55, "kind": "bar"},
      {"panel": "c", "dataset": "Spatial batch kBET", "metric": "kBET", "method": "BASS", "kind": "na"},
      {"panel": "c", "dataset": "Spatial batch kBET", "metric": "kBET", "method": "STADIA", "score": 0.02, "kind": "bar"},
      {"panel": "c", "dataset": "Spatial batch kBET", "metric": "kBET", "method": "GraphST", "score": 0.01, "kind": "bar"},
      {"panel": "c", "dataset": "Spatial batch kBET", "metric": "kBET", "method": "scVI", "score": 0.355, "kind": "rep"},
      {"panel": "c", "dataset": "Spatial batch kBET", "metric": "kBET", "method": "scVI", "score": 0.31, "kind": "rep"},
      {"panel": "c", "dataset": "Spatial batch kBET", "metric": "kBET", "method": "scVI", "score": 0.3, "kind": "rep"},
      {"panel": "c", "dataset": "Spatial batch kBET", "metric": "kBET", "method": "scNiche-minibatch", "score": 0.71, "kind": "rep"},
      {"panel": "c", "dataset": "Spatial batch kBET", "metric": "kBET", "method": "scNiche-minibatch", "score": 0.69, "kind": "rep"},
      {"panel": "c", "dataset": "Spatial batch kBET", "metric": "kBET", "method": "scNiche-minibatch", "score": 0.54, "kind": "rep"},
      {"panel": "c", "dataset": "Spatial batch kBET", "metric": "kBET", "method": "scNiche-minibatch", "score": 0.48, "kind": "rep"},
      {"panel": "c", "dataset": "Spatial batch kBET", "metric": "kBET", "method": "scNiche-minibatch", "score": 0.44, "kind": "rep"},
      {"panel": "c", "dataset": "Spatial batch kBET", "metric": "kBET", "method": "scNiche-minibatch", "score": 0.25, "kind": "rep"},
      {"panel": "c", "dataset": "Spatial batch kBET", "metric": "kBET", "method": "scNiche-minibatch", "score": 0.18, "kind": "rep"},

      {"panel": "c", "dataset": "Omics batch ASW", "metric": "ASW", "method": "DECIPHER", "score": 0.964, "kind": "bar"},
      {"panel": "c", "dataset": "Omics batch ASW", "metric": "ASW", "method": "scVI", "score": 0.87, "kind": "bar"},
      {"panel": "c", "dataset": "Omics batch ASW", "metric": "ASW", "method": "Harmony", "score": 0.725, "kind": "bar"},
      {"panel": "c", "dataset": "Omics batch ASW", "metric": "ASW", "method": "Scanpy", "score": 0.553, "kind": "bar"},
      {"panel": "c", "dataset": "Omics batch ASW", "metric": "ASW", "method": "Banksy", "score": 0.439, "kind": "bar"},
      {"panel": "c", "dataset": "Omics batch ASW", "metric": "ASW", "method": "STAGATE", "score": 0.229, "kind": "bar"},
      {"panel": "c", "dataset": "Omics batch ASW", "metric": "ASW", "method": "SLAT", "score": 0.519, "kind": "bar"},
      {"panel": "c", "dataset": "Omics batch ASW", "metric": "ASW", "method": "scNiche-minibatch", "score": 0.808, "lo": 0.79, "hi": 0.83, "kind": "bar"},
      {"panel": "c", "dataset": "Omics batch ASW", "metric": "ASW", "method": "BASS", "kind": "na"},
      {"panel": "c", "dataset": "Omics batch ASW", "metric": "ASW", "method": "STADIA", "score": 0.834, "kind": "bar"},
      {"panel": "c", "dataset": "Omics batch ASW", "metric": "ASW", "method": "GraphST", "score": 0.701, "kind": "bar"},
      {"panel": "c", "dataset": "Omics batch ASW", "metric": "ASW", "method": "scNiche-minibatch", "score": 0.85, "kind": "rep"},
      {"panel": "c", "dataset": "Omics batch ASW", "metric": "ASW", "method": "scNiche-minibatch", "score": 0.82, "kind": "rep"},
      {"panel": "c", "dataset": "Omics batch ASW", "metric": "ASW", "method": "scNiche-minibatch", "score": 0.78, "kind": "rep"},

      {"panel": "c", "dataset": "Omics batch GC", "metric": "GC", "method": "DECIPHER", "score": 1.0, "kind": "bar"},
      {"panel": "c", "dataset": "Omics batch GC", "metric": "GC", "method": "scVI", "score": 1.0, "kind": "bar"},
      {"panel": "c", "dataset": "Omics batch GC", "metric": "GC", "method": "Harmony", "score": 0.998, "kind": "bar"},
      {"panel": "c", "dataset": "Omics batch GC", "metric": "GC", "method": "Scanpy", "score": 0.998, "kind": "bar"},
      {"panel": "c", "dataset": "Omics batch GC", "metric": "GC", "method": "Banksy", "score": 0.984, "lo": 0.955, "hi": 1.0, "kind": "bar"},
      {"panel": "c", "dataset": "Omics batch GC", "metric": "GC", "method": "STAGATE", "score": 0.535, "kind": "bar"},
      {"panel": "c", "dataset": "Omics batch GC", "metric": "GC", "method": "SLAT", "score": 0.847, "kind": "bar"},
      {"panel": "c", "dataset": "Omics batch GC", "metric": "GC", "method": "scNiche-minibatch", "score": 0.816, "lo": 0.79, "hi": 0.845, "kind": "bar"},
      {"panel": "c", "dataset": "Omics batch GC", "metric": "GC", "method": "BASS", "kind": "na"},
      {"panel": "c", "dataset": "Omics batch GC", "metric": "GC", "method": "STADIA", "score": 1.0, "kind": "bar"},
      {"panel": "c", "dataset": "Omics batch GC", "metric": "GC", "method": "GraphST", "score": 0.99, "kind": "bar"},
      {"panel": "c", "dataset": "Omics batch GC", "metric": "GC", "method": "Banksy", "score": 1.0, "kind": "rep"},
      {"panel": "c", "dataset": "Omics batch GC", "metric": "GC", "method": "Banksy", "score": 0.99, "kind": "rep"},
      {"panel": "c", "dataset": "Omics batch GC", "metric": "GC", "method": "Banksy", "score": 0.85, "kind": "rep"},
      {"panel": "c", "dataset": "Omics batch GC", "metric": "GC", "method": "scNiche-minibatch", "score": 0.88, "kind": "rep"},
      {"panel": "c", "dataset": "Omics batch GC", "metric": "GC", "method": "scNiche-minibatch", "score": 0.85, "kind": "rep"},
      {"panel": "c", "dataset": "Omics batch GC", "metric": "GC", "method": "scNiche-minibatch", "score": 0.8, "kind": "rep"},
      {"panel": "c", "dataset": "Omics batch GC", "metric": "GC", "method": "scNiche-minibatch", "score": 0.78, "kind": "rep"},

      {"panel": "c", "dataset": "Omics batch iLISI", "metric": "iLISI", "method": "DECIPHER", "score": 0.805, "kind": "bar"},
      {"panel": "c", "dataset": "Omics batch iLISI", "metric": "iLISI", "method": "scVI", "score": 0.574, "lo": 0.555, "hi": 0.595, "kind": "bar"},
      {"panel": "c", "dataset": "Omics batch iLISI", "metric": "iLISI", "method": "Harmony", "score": 0.07, "kind": "bar"},
      {"panel": "c", "dataset": "Omics batch iLISI", "metric": "iLISI", "method": "Scanpy", "score": 0.003, "kind": "bar"},
      {"panel": "c", "dataset": "Omics batch iLISI", "metric": "iLISI", "method": "Banksy", "score": 0.003, "kind": "bar"},
      {"panel": "c", "dataset": "Omics batch iLISI", "metric": "iLISI", "method": "STAGATE", "score": 0.003, "kind": "bar"},
      {"panel": "c", "dataset": "Omics batch iLISI", "metric": "iLISI", "method": "SLAT", "score": 0.003, "kind": "bar"},
      {"panel": "c", "dataset": "Omics batch iLISI", "metric": "iLISI", "method": "scNiche-minibatch", "score": 0.745, "lo": 0.66, "hi": 0.83, "kind": "bar"},
      {"panel": "c", "dataset": "Omics batch iLISI", "metric": "iLISI", "method": "BASS", "kind": "na"},
      {"panel": "c", "dataset": "Omics batch iLISI", "metric": "iLISI", "method": "STADIA", "score": 0.003, "kind": "bar"},
      {"panel": "c", "dataset": "Omics batch iLISI", "metric": "iLISI", "method": "GraphST", "score": 0.003, "kind": "bar"},
      {"panel": "c", "dataset": "Omics batch iLISI", "metric": "iLISI", "method": "scVI", "score": 0.62, "kind": "rep"},
      {"panel": "c", "dataset": "Omics batch iLISI", "metric": "iLISI", "method": "scVI", "score": 0.59, "kind": "rep"},
      {"panel": "c", "dataset": "Omics batch iLISI", "metric": "iLISI", "method": "scVI", "score": 0.56, "kind": "rep"},
      {"panel": "c", "dataset": "Omics batch iLISI", "metric": "iLISI", "method": "scNiche-minibatch", "score": 0.88, "kind": "rep"},
      {"panel": "c", "dataset": "Omics batch iLISI", "metric": "iLISI", "method": "scNiche-minibatch", "score": 0.85, "kind": "rep"},
      {"panel": "c", "dataset": "Omics batch iLISI", "metric": "iLISI", "method": "scNiche-minibatch", "score": 0.82, "kind": "rep"},
      {"panel": "c", "dataset": "Omics batch iLISI", "metric": "iLISI", "method": "scNiche-minibatch", "score": 0.8, "kind": "rep"},
      {"panel": "c", "dataset": "Omics batch iLISI", "metric": "iLISI", "method": "scNiche-minibatch", "score": 0.76, "kind": "rep"},
      {"panel": "c", "dataset": "Omics batch iLISI", "metric": "iLISI", "method": "scNiche-minibatch", "score": 0.47, "kind": "rep"},
      {"panel": "c", "dataset": "Omics batch iLISI", "metric": "iLISI", "method": "scNiche-minibatch", "score": 0.44, "kind": "rep"},

      {"panel": "c", "dataset": "Omics batch kBET", "metric": "kBET", "method": "DECIPHER", "score": 0.564, "kind": "bar"},
      {"panel": "c", "dataset": "Omics batch kBET", "metric": "kBET", "method": "scVI", "score": 0.273, "lo": 0.255, "hi": 0.29, "kind": "bar"},
      {"panel": "c", "dataset": "Omics batch kBET", "metric": "kBET", "method": "Harmony", "score": 0.096, "kind": "bar"},
      {"panel": "c", "dataset": "Omics batch kBET", "metric": "kBET", "method": "Scanpy", "score": 0.006, "kind": "bar"},
      {"panel": "c", "dataset": "Omics batch kBET", "metric": "kBET", "method": "Banksy", "score": 0.006, "kind": "bar"},
      {"panel": "c", "dataset": "Omics batch kBET", "metric": "kBET", "method": "STAGATE", "score": 0.006, "kind": "bar"},
      {"panel": "c", "dataset": "Omics batch kBET", "metric": "kBET", "method": "SLAT", "score": 0.006, "kind": "bar"},
      {"panel": "c", "dataset": "Omics batch kBET", "metric": "kBET", "method": "scNiche-minibatch", "score": 0.462, "lo": 0.38, "hi": 0.54, "kind": "bar"},
      {"panel": "c", "dataset": "Omics batch kBET", "metric": "kBET", "method": "BASS", "kind": "na"},
      {"panel": "c", "dataset": "Omics batch kBET", "metric": "kBET", "method": "STADIA", "score": 0.012, "kind": "bar"},
      {"panel": "c", "dataset": "Omics batch kBET", "metric": "kBET", "method": "GraphST", "score": 0.012, "kind": "bar"},
      {"panel": "c", "dataset": "Omics batch kBET", "metric": "kBET", "method": "scVI", "score": 0.305, "kind": "rep"},
      {"panel": "c", "dataset": "Omics batch kBET", "metric": "kBET", "method": "scVI", "score": 0.26, "kind": "rep"},
      {"panel": "c", "dataset": "Omics batch kBET", "metric": "kBET", "method": "scNiche-minibatch", "score": 0.67, "kind": "rep"},
      {"panel": "c", "dataset": "Omics batch kBET", "metric": "kBET", "method": "scNiche-minibatch", "score": 0.64, "kind": "rep"},
      {"panel": "c", "dataset": "Omics batch kBET", "metric": "kBET", "method": "scNiche-minibatch", "score": 0.53, "kind": "rep"},
      {"panel": "c", "dataset": "Omics batch kBET", "metric": "kBET", "method": "scNiche-minibatch", "score": 0.51, "kind": "rep"},
      {"panel": "c", "dataset": "Omics batch kBET", "metric": "kBET", "method": "scNiche-minibatch", "score": 0.47, "kind": "rep"},
      {"panel": "c", "dataset": "Omics batch kBET", "metric": "kBET", "method": "scNiche-minibatch", "score": 0.45, "kind": "rep"},
      {"panel": "c", "dataset": "Omics batch kBET", "metric": "kBET", "method": "scNiche-minibatch", "score": 0.24, "kind": "rep"},
      {"panel": "c", "dataset": "Omics batch kBET", "metric": "kBET", "method": "scNiche-minibatch", "score": 0.17, "kind": "rep"}
    ]
  },
  "vconcat": [
    {
      "title": {"text": "a", "offset": -26, "dx": -40},
      "spacing": 44,
      "bounds": "flush",
      "hconcat": [
        {
          "title": {"text": "10x PBMC simulation", "frame": "bounds", "anchor": "middle", "fontSize": 17, "fontWeight": "normal", "offset": 3},
          "width": 310, "height": 216,
          "transform": [{"filter": "datum.panel == 'a' && datum.dataset == '10x PBMC simulation'"}],
          "encoding": {
            "x": {"field": "metric", "type": "nominal", "scale": {"domain": ["Spatial ARI", "Spatial NMI"], "paddingInner": 0.1, "paddingOuter": 0.15}, "axis": {"title": null, "labelAngle": 0, "labelFontSize": 13, "labelColor": "black", "labelPadding": 6}},
            "xOffset": {"field": "method", "type": "nominal", "scale": {"domain": ["DECIPHER", "scVI", "Harmony", "Scanpy", "Banksy", "STAGATE", "SLAT", "scNiche-minibatch", "BASS", "STADIA", "GraphST"], "paddingInner": 0.12, "paddingOuter": 0}}
          },
          "layer": [
            {"transform": [{"filter": "datum.kind == 'bar'"}], "mark": {"type": "bar", "strokeWidth": 1.6},
             "encoding": {"y": {"field": "score", "type": "quantitative", "scale": {"domain": [-0.05, 1.05], "nice": false}, "axis": {"title": "Score", "values": [0, 0.25, 0.5, 0.75, 1], "format": ".2f"}},
                          "fill": {"field": "method", "type": "nominal", "title": "Method", "scale": {"domain": ["DECIPHER", "scVI", "Harmony", "Scanpy", "Banksy", "STAGATE", "SLAT", "scNiche-minibatch", "BASS", "STADIA", "GraphST"], "range": ["#9DA4C9", "#F28589", "#93B598", "#A19CB8", "#8DAABF", "#AB9CA6", "#CC8CA8", "#B99DCA", "#D187B5", "#B5B5B5", "#8C8C8C"]}},
                          "stroke": {"field": "method", "type": "nominal", "title": "Method", "scale": {"domain": ["DECIPHER", "scVI", "Harmony", "Scanpy", "Banksy", "STAGATE", "SLAT", "scNiche-minibatch", "BASS", "STADIA", "GraphST"], "range": ["#3B4992", "#E8141B", "#2E7438", "#463A73", "#235B80", "#614654", "#962054", "#7A3A92", "#A3186E", "#858585", "#1E1E1E"]}}}},
            {"transform": [{"filter": "isValid(datum.lo)"}], "mark": {"type": "rule", "strokeWidth": 0.8},
             "encoding": {"y": {"field": "lo", "type": "quantitative", "scale": {"domain": [-0.05, 1.05], "nice": false}, "axis": {"title": "Score", "values": [0, 0.25, 0.5, 0.75, 1], "format": ".2f"}}, "y2": {"field": "hi"},
                          "color": {"field": "method", "type": "nominal", "legend": null, "scale": {"domain": ["DECIPHER", "scVI", "Harmony", "Scanpy", "Banksy", "STAGATE", "SLAT", "scNiche-minibatch", "BASS", "STADIA", "GraphST"], "range": ["#3B4992", "#E8141B", "#2E7438", "#463A73", "#235B80", "#614654", "#962054", "#7A3A92", "#A3186E", "#858585", "#1E1E1E"]}}}},
            {"transform": [{"filter": "datum.kind != 'na'"}], "mark": {"type": "circle", "size": 11, "opacity": 1},
             "encoding": {"y": {"field": "score", "type": "quantitative", "scale": {"domain": [-0.05, 1.05], "nice": false}, "axis": {"title": "Score", "values": [0, 0.25, 0.5, 0.75, 1], "format": ".2f"}},
                          "color": {"field": "method", "type": "nominal", "legend": null, "scale": {"domain": ["DECIPHER", "scVI", "Harmony", "Scanpy", "Banksy", "STAGATE", "SLAT", "scNiche-minibatch", "BASS", "STADIA", "GraphST"], "range": ["#3B4992", "#E8141B", "#2E7438", "#463A73", "#235B80", "#614654", "#962054", "#7A3A92", "#A3186E", "#858585", "#1E1E1E"]}}}},
            {"transform": [{"filter": "datum.kind == 'na'"}], "mark": {"type": "text", "text": "N.A.", "angle": 270, "align": "left", "baseline": "middle", "fontSize": 11, "color": "black"},
             "encoding": {"y": {"datum": 0, "type": "quantitative", "scale": {"domain": [-0.05, 1.05], "nice": false}, "axis": {"title": "Score", "values": [0, 0.25, 0.5, 0.75, 1], "format": ".2f"}}}}
          ]
        },
        {
          "title": {"text": "MERFISH mouse brain", "frame": "bounds", "anchor": "middle", "fontSize": 17, "fontWeight": "normal", "offset": 3},
          "width": 302, "height": 216,
          "transform": [{"filter": "datum.panel == 'a' && datum.dataset == 'MERFISH mouse brain'"}],
          "encoding": {
            "x": {"field": "metric", "type": "nominal", "scale": {"domain": ["Spatial ARI", "Spatial NMI"], "paddingInner": 0.1, "paddingOuter": 0.15}, "axis": {"title": null, "labelAngle": 0, "labelFontSize": 13, "labelColor": "black", "labelPadding": 6}},
            "xOffset": {"field": "method", "type": "nominal", "scale": {"domain": ["DECIPHER", "scVI", "Harmony", "Scanpy", "Banksy", "STAGATE", "SLAT", "scNiche-minibatch", "BASS", "STADIA", "GraphST"], "paddingInner": 0.12, "paddingOuter": 0}}
          },
          "layer": [
            {"transform": [{"filter": "datum.kind == 'bar'"}], "mark": {"type": "bar", "strokeWidth": 1.6},
             "encoding": {"y": {"field": "score", "type": "quantitative", "scale": {"domain": [-0.05, 1.05], "nice": false}, "axis": {"title": "Score", "values": [0, 0.25, 0.5, 0.75, 1], "format": ".2f"}},
                          "fill": {"field": "method", "type": "nominal", "title": "Method", "scale": {"domain": ["DECIPHER", "scVI", "Harmony", "Scanpy", "Banksy", "STAGATE", "SLAT", "scNiche-minibatch", "BASS", "STADIA", "GraphST"], "range": ["#9DA4C9", "#F28589", "#93B598", "#A19CB8", "#8DAABF", "#AB9CA6", "#CC8CA8", "#B99DCA", "#D187B5", "#B5B5B5", "#8C8C8C"]}},
                          "stroke": {"field": "method", "type": "nominal", "title": "Method", "scale": {"domain": ["DECIPHER", "scVI", "Harmony", "Scanpy", "Banksy", "STAGATE", "SLAT", "scNiche-minibatch", "BASS", "STADIA", "GraphST"], "range": ["#3B4992", "#E8141B", "#2E7438", "#463A73", "#235B80", "#614654", "#962054", "#7A3A92", "#A3186E", "#858585", "#1E1E1E"]}}}},
            {"transform": [{"filter": "isValid(datum.lo)"}], "mark": {"type": "rule", "strokeWidth": 0.8},
             "encoding": {"y": {"field": "lo", "type": "quantitative", "scale": {"domain": [-0.05, 1.05], "nice": false}, "axis": {"title": "Score", "values": [0, 0.25, 0.5, 0.75, 1], "format": ".2f"}}, "y2": {"field": "hi"},
                          "color": {"field": "method", "type": "nominal", "legend": null, "scale": {"domain": ["DECIPHER", "scVI", "Harmony", "Scanpy", "Banksy", "STAGATE", "SLAT", "scNiche-minibatch", "BASS", "STADIA", "GraphST"], "range": ["#3B4992", "#E8141B", "#2E7438", "#463A73", "#235B80", "#614654", "#962054", "#7A3A92", "#A3186E", "#858585", "#1E1E1E"]}}}},
            {"transform": [{"filter": "datum.kind != 'na'"}], "mark": {"type": "circle", "size": 11, "opacity": 1},
             "encoding": {"y": {"field": "score", "type": "quantitative", "scale": {"domain": [-0.05, 1.05], "nice": false}, "axis": {"title": "Score", "values": [0, 0.25, 0.5, 0.75, 1], "format": ".2f"}},
                          "color": {"field": "method", "type": "nominal", "legend": null, "scale": {"domain": ["DECIPHER", "scVI", "Harmony", "Scanpy", "Banksy", "STAGATE", "SLAT", "scNiche-minibatch", "BASS", "STADIA", "GraphST"], "range": ["#3B4992", "#E8141B", "#2E7438", "#463A73", "#235B80", "#614654", "#962054", "#7A3A92", "#A3186E", "#858585", "#1E1E1E"]}}}},
            {"transform": [{"filter": "datum.kind == 'na'"}], "mark": {"type": "text", "text": "N.A.", "angle": 270, "align": "left", "baseline": "middle", "fontSize": 11, "color": "black"},
             "encoding": {"y": {"datum": 0, "type": "quantitative", "scale": {"domain": [-0.05, 1.05], "nice": false}, "axis": {"title": "Score", "values": [0, 0.25, 0.5, 0.75, 1], "format": ".2f"}}}}
          ]
        },
        {
          "title": {"text": "Xenium breast tumor", "frame": "bounds", "anchor": "middle", "fontSize": 17, "fontWeight": "normal", "offset": 3},
          "width": 310, "height": 216,
          "transform": [{"filter": "datum.panel == 'a' && datum.dataset == 'Xenium breast tumor'"}],
          "encoding": {
            "x": {"field": "metric", "type": "nominal", "scale": {"domain": ["Spatial ARI", "Spatial NMI"], "paddingInner": 0.1, "paddingOuter": 0.15}, "axis": {"title": null, "labelAngle": 0, "labelFontSize": 13, "labelColor": "black", "labelPadding": 6}},
            "xOffset": {"field": "method", "type": "nominal", "scale": {"domain": ["DECIPHER", "scVI", "Harmony", "Scanpy", "Banksy", "STAGATE", "SLAT", "scNiche-minibatch", "BASS", "STADIA", "GraphST"], "paddingInner": 0.12, "paddingOuter": 0}}
          },
          "layer": [
            {"transform": [{"filter": "datum.kind == 'bar'"}], "mark": {"type": "bar", "strokeWidth": 1.6},
             "encoding": {"y": {"field": "score", "type": "quantitative", "scale": {"domain": [-0.05, 1.05], "nice": false}, "axis": {"title": "Score", "values": [0, 0.25, 0.5, 0.75, 1], "format": ".2f"}},
                          "fill": {"field": "method", "type": "nominal", "title": "Method", "scale": {"domain": ["DECIPHER", "scVI", "Harmony", "Scanpy", "Banksy", "STAGATE", "SLAT", "scNiche-minibatch", "BASS", "STADIA", "GraphST"], "range": ["#9DA4C9", "#F28589", "#93B598", "#A19CB8", "#8DAABF", "#AB9CA6", "#CC8CA8", "#B99DCA", "#D187B5", "#B5B5B5", "#8C8C8C"]}},
                          "stroke": {"field": "method", "type": "nominal", "title": "Method", "scale": {"domain": ["DECIPHER", "scVI", "Harmony", "Scanpy", "Banksy", "STAGATE", "SLAT", "scNiche-minibatch", "BASS", "STADIA", "GraphST"], "range": ["#3B4992", "#E8141B", "#2E7438", "#463A73", "#235B80", "#614654", "#962054", "#7A3A92", "#A3186E", "#858585", "#1E1E1E"]}}}},
            {"transform": [{"filter": "isValid(datum.lo)"}], "mark": {"type": "rule", "strokeWidth": 0.8},
             "encoding": {"y": {"field": "lo", "type": "quantitative", "scale": {"domain": [-0.05, 1.05], "nice": false}, "axis": {"title": "Score", "values": [0, 0.25, 0.5, 0.75, 1], "format": ".2f"}}, "y2": {"field": "hi"},
                          "color": {"field": "method", "type": "nominal", "legend": null, "scale": {"domain": ["DECIPHER", "scVI", "Harmony", "Scanpy", "Banksy", "STAGATE", "SLAT", "scNiche-minibatch", "BASS", "STADIA", "GraphST"], "range": ["#3B4992", "#E8141B", "#2E7438", "#463A73", "#235B80", "#614654", "#962054", "#7A3A92", "#A3186E", "#858585", "#1E1E1E"]}}}},
            {"transform": [{"filter": "datum.kind != 'na'"}], "mark": {"type": "circle", "size": 11, "opacity": 1},
             "encoding": {"y": {"field": "score", "type": "quantitative", "scale": {"domain": [-0.05, 1.05], "nice": false}, "axis": {"title": "Score", "values": [0, 0.25, 0.5, 0.75, 1], "format": ".2f"}},
                          "color": {"field": "method", "type": "nominal", "legend": null, "scale": {"domain": ["DECIPHER", "scVI", "Harmony", "Scanpy", "Banksy", "STAGATE", "SLAT", "scNiche-minibatch", "BASS", "STADIA", "GraphST"], "range": ["#3B4992", "#E8141B", "#2E7438", "#463A73", "#235B80", "#614654", "#962054", "#7A3A92", "#A3186E", "#858585", "#1E1E1E"]}}}},
            {"transform": [{"filter": "datum.kind == 'na'"}], "mark": {"type": "text", "text": "N.A.", "angle": 270, "align": "left", "baseline": "middle", "fontSize": 11, "color": "black"},
             "encoding": {"y": {"datum": 0, "type": "quantitative", "scale": {"domain": [-0.05, 1.05], "nice": false}, "axis": {"title": "Score", "values": [0, 0.25, 0.5, 0.75, 1], "format": ".2f"}}}}
          ]
        }
      ]
    },
    {
      "title": {"text": "b", "offset": -26, "dx": -40},
      "spacing": 44,
      "bounds": "flush",
      "hconcat": [
        {
          "title": {"text": "10x PBMC simulation", "frame": "bounds", "anchor": "middle", "fontSize": 17, "fontWeight": "normal", "offset": 3},
          "width": 310, "height": 222,
          "transform": [{"filter": "datum.panel == 'b' && datum.dataset == '10x PBMC simulation'"}],
          "encoding": {
            "x": {"field": "metric", "type": "nominal", "scale": {"domain": ["Omics ARI", "Omics NMI"], "paddingInner": 0.1, "paddingOuter": 0.15}, "axis": {"title": null, "labelAngle": 0, "labelFontSize": 13, "labelColor": "black", "labelPadding": 6}},
            "xOffset": {"field": "method", "type": "nominal", "scale": {"domain": ["DECIPHER", "scVI", "Harmony", "Scanpy", "Banksy", "STAGATE", "SLAT", "scNiche-minibatch", "BASS", "STADIA", "GraphST"], "paddingInner": 0.12, "paddingOuter": 0}}
          },
          "layer": [
            {"transform": [{"filter": "datum.kind == 'bar'"}], "mark": {"type": "bar", "strokeWidth": 1.6},
             "encoding": {"y": {"field": "score", "type": "quantitative", "scale": {"domain": [-0.05, 1.05], "nice": false}, "axis": {"title": "Score", "values": [0, 0.25, 0.5, 0.75, 1], "format": ".2f"}},
                          "fill": {"field": "method", "type": "nominal", "title": "Method", "scale": {"domain": ["DECIPHER", "scVI", "Harmony", "Scanpy", "Banksy", "STAGATE", "SLAT", "scNiche-minibatch", "BASS", "STADIA", "GraphST"], "range": ["#9DA4C9", "#F28589", "#93B598", "#A19CB8", "#8DAABF", "#AB9CA6", "#CC8CA8", "#B99DCA", "#D187B5", "#B5B5B5", "#8C8C8C"]}},
                          "stroke": {"field": "method", "type": "nominal", "title": "Method", "scale": {"domain": ["DECIPHER", "scVI", "Harmony", "Scanpy", "Banksy", "STAGATE", "SLAT", "scNiche-minibatch", "BASS", "STADIA", "GraphST"], "range": ["#3B4992", "#E8141B", "#2E7438", "#463A73", "#235B80", "#614654", "#962054", "#7A3A92", "#A3186E", "#858585", "#1E1E1E"]}}}},
            {"transform": [{"filter": "isValid(datum.lo)"}], "mark": {"type": "rule", "strokeWidth": 0.8},
             "encoding": {"y": {"field": "lo", "type": "quantitative", "scale": {"domain": [-0.05, 1.05], "nice": false}, "axis": {"title": "Score", "values": [0, 0.25, 0.5, 0.75, 1], "format": ".2f"}}, "y2": {"field": "hi"},
                          "color": {"field": "method", "type": "nominal", "legend": null, "scale": {"domain": ["DECIPHER", "scVI", "Harmony", "Scanpy", "Banksy", "STAGATE", "SLAT", "scNiche-minibatch", "BASS", "STADIA", "GraphST"], "range": ["#3B4992", "#E8141B", "#2E7438", "#463A73", "#235B80", "#614654", "#962054", "#7A3A92", "#A3186E", "#858585", "#1E1E1E"]}}}},
            {"transform": [{"filter": "datum.kind != 'na'"}], "mark": {"type": "circle", "size": 11, "opacity": 1},
             "encoding": {"y": {"field": "score", "type": "quantitative", "scale": {"domain": [-0.05, 1.05], "nice": false}, "axis": {"title": "Score", "values": [0, 0.25, 0.5, 0.75, 1], "format": ".2f"}},
                          "color": {"field": "method", "type": "nominal", "legend": null, "scale": {"domain": ["DECIPHER", "scVI", "Harmony", "Scanpy", "Banksy", "STAGATE", "SLAT", "scNiche-minibatch", "BASS", "STADIA", "GraphST"], "range": ["#3B4992", "#E8141B", "#2E7438", "#463A73", "#235B80", "#614654", "#962054", "#7A3A92", "#A3186E", "#858585", "#1E1E1E"]}}}},
            {"transform": [{"filter": "datum.kind == 'na'"}], "mark": {"type": "text", "text": "N.A.", "angle": 270, "align": "left", "baseline": "middle", "fontSize": 11, "color": "black"},
             "encoding": {"y": {"datum": 0, "type": "quantitative", "scale": {"domain": [-0.05, 1.05], "nice": false}, "axis": {"title": "Score", "values": [0, 0.25, 0.5, 0.75, 1], "format": ".2f"}}}}
          ]
        },
        {
          "title": {"text": "MERFISH mouse brain", "frame": "bounds", "anchor": "middle", "fontSize": 17, "fontWeight": "normal", "offset": 3},
          "width": 302, "height": 222,
          "transform": [{"filter": "datum.panel == 'b' && datum.dataset == 'MERFISH mouse brain'"}],
          "encoding": {
            "x": {"field": "metric", "type": "nominal", "scale": {"domain": ["Omics ARI", "Omics NMI"], "paddingInner": 0.1, "paddingOuter": 0.15}, "axis": {"title": null, "labelAngle": 0, "labelFontSize": 13, "labelColor": "black", "labelPadding": 6}},
            "xOffset": {"field": "method", "type": "nominal", "scale": {"domain": ["DECIPHER", "scVI", "Harmony", "Scanpy", "Banksy", "STAGATE", "SLAT", "scNiche-minibatch", "BASS", "STADIA", "GraphST"], "paddingInner": 0.12, "paddingOuter": 0}}
          },
          "layer": [
            {"transform": [{"filter": "datum.kind == 'bar'"}], "mark": {"type": "bar", "strokeWidth": 1.6},
             "encoding": {"y": {"field": "score", "type": "quantitative", "scale": {"domain": [-0.05, 1.05], "nice": false}, "axis": {"title": "Score", "values": [0, 0.25, 0.5, 0.75, 1], "format": ".2f"}},
                          "fill": {"field": "method", "type": "nominal", "title": "Method", "scale": {"domain": ["DECIPHER", "scVI", "Harmony", "Scanpy", "Banksy", "STAGATE", "SLAT", "scNiche-minibatch", "BASS", "STADIA", "GraphST"], "range": ["#9DA4C9", "#F28589", "#93B598", "#A19CB8", "#8DAABF", "#AB9CA6", "#CC8CA8", "#B99DCA", "#D187B5", "#B5B5B5", "#8C8C8C"]}},
                          "stroke": {"field": "method", "type": "nominal", "title": "Method", "scale": {"domain": ["DECIPHER", "scVI", "Harmony", "Scanpy", "Banksy", "STAGATE", "SLAT", "scNiche-minibatch", "BASS", "STADIA", "GraphST"], "range": ["#3B4992", "#E8141B", "#2E7438", "#463A73", "#235B80", "#614654", "#962054", "#7A3A92", "#A3186E", "#858585", "#1E1E1E"]}}}},
            {"transform": [{"filter": "isValid(datum.lo)"}], "mark": {"type": "rule", "strokeWidth": 0.8},
             "encoding": {"y": {"field": "lo", "type": "quantitative", "scale": {"domain": [-0.05, 1.05], "nice": false}, "axis": {"title": "Score", "values": [0, 0.25, 0.5, 0.75, 1], "format": ".2f"}}, "y2": {"field": "hi"},
                          "color": {"field": "method", "type": "nominal", "legend": null, "scale": {"domain": ["DECIPHER", "scVI", "Harmony", "Scanpy", "Banksy", "STAGATE", "SLAT", "scNiche-minibatch", "BASS", "STADIA", "GraphST"], "range": ["#3B4992", "#E8141B", "#2E7438", "#463A73", "#235B80", "#614654", "#962054", "#7A3A92", "#A3186E", "#858585", "#1E1E1E"]}}}},
            {"transform": [{"filter": "datum.kind != 'na'"}], "mark": {"type": "circle", "size": 11, "opacity": 1},
             "encoding": {"y": {"field": "score", "type": "quantitative", "scale": {"domain": [-0.05, 1.05], "nice": false}, "axis": {"title": "Score", "values": [0, 0.25, 0.5, 0.75, 1], "format": ".2f"}},
                          "color": {"field": "method", "type": "nominal", "legend": null, "scale": {"domain": ["DECIPHER", "scVI", "Harmony", "Scanpy", "Banksy", "STAGATE", "SLAT", "scNiche-minibatch", "BASS", "STADIA", "GraphST"], "range": ["#3B4992", "#E8141B", "#2E7438", "#463A73", "#235B80", "#614654", "#962054", "#7A3A92", "#A3186E", "#858585", "#1E1E1E"]}}}},
            {"transform": [{"filter": "datum.kind == 'na'"}], "mark": {"type": "text", "text": "N.A.", "angle": 270, "align": "left", "baseline": "middle", "fontSize": 11, "color": "black"},
             "encoding": {"y": {"datum": 0, "type": "quantitative", "scale": {"domain": [-0.05, 1.05], "nice": false}, "axis": {"title": "Score", "values": [0, 0.25, 0.5, 0.75, 1], "format": ".2f"}}}}
          ]
        },
        {
          "title": {"text": "Xenium breast tumor", "frame": "bounds", "anchor": "middle", "fontSize": 17, "fontWeight": "normal", "offset": 3},
          "width": 310, "height": 222,
          "transform": [{"filter": "datum.panel == 'b' && datum.dataset == 'Xenium breast tumor'"}],
          "encoding": {
            "x": {"field": "metric", "type": "nominal", "scale": {"domain": ["Omics ARI", "Omics NMI"], "paddingInner": 0.1, "paddingOuter": 0.15}, "axis": {"title": null, "labelAngle": 0, "labelFontSize": 13, "labelColor": "black", "labelPadding": 6}},
            "xOffset": {"field": "method", "type": "nominal", "scale": {"domain": ["DECIPHER", "scVI", "Harmony", "Scanpy", "Banksy", "STAGATE", "SLAT", "scNiche-minibatch", "BASS", "STADIA", "GraphST"], "paddingInner": 0.12, "paddingOuter": 0}}
          },
          "layer": [
            {"transform": [{"filter": "datum.kind == 'bar'"}], "mark": {"type": "bar", "strokeWidth": 1.6},
             "encoding": {"y": {"field": "score", "type": "quantitative", "scale": {"domain": [-0.05, 1.05], "nice": false}, "axis": {"title": "Score", "values": [0, 0.25, 0.5, 0.75, 1], "format": ".2f"}},
                          "fill": {"field": "method", "type": "nominal", "title": "Method", "scale": {"domain": ["DECIPHER", "scVI", "Harmony", "Scanpy", "Banksy", "STAGATE", "SLAT", "scNiche-minibatch", "BASS", "STADIA", "GraphST"], "range": ["#9DA4C9", "#F28589", "#93B598", "#A19CB8", "#8DAABF", "#AB9CA6", "#CC8CA8", "#B99DCA", "#D187B5", "#B5B5B5", "#8C8C8C"]}},
                          "stroke": {"field": "method", "type": "nominal", "title": "Method", "scale": {"domain": ["DECIPHER", "scVI", "Harmony", "Scanpy", "Banksy", "STAGATE", "SLAT", "scNiche-minibatch", "BASS", "STADIA", "GraphST"], "range": ["#3B4992", "#E8141B", "#2E7438", "#463A73", "#235B80", "#614654", "#962054", "#7A3A92", "#A3186E", "#858585", "#1E1E1E"]}}}},
            {"transform": [{"filter": "isValid(datum.lo)"}], "mark": {"type": "rule", "strokeWidth": 0.8},
             "encoding": {"y": {"field": "lo", "type": "quantitative", "scale": {"domain": [-0.05, 1.05], "nice": false}, "axis": {"title": "Score", "values": [0, 0.25, 0.5, 0.75, 1], "format": ".2f"}}, "y2": {"field": "hi"},
                          "color": {"field": "method", "type": "nominal", "legend": null, "scale": {"domain": ["DECIPHER", "scVI", "Harmony", "Scanpy", "Banksy", "STAGATE", "SLAT", "scNiche-minibatch", "BASS", "STADIA", "GraphST"], "range": ["#3B4992", "#E8141B", "#2E7438", "#463A73", "#235B80", "#614654", "#962054", "#7A3A92", "#A3186E", "#858585", "#1E1E1E"]}}}},
            {"transform": [{"filter": "datum.kind != 'na'"}], "mark": {"type": "circle", "size": 11, "opacity": 1},
             "encoding": {"y": {"field": "score", "type": "quantitative", "scale": {"domain": [-0.05, 1.05], "nice": false}, "axis": {"title": "Score", "values": [0, 0.25, 0.5, 0.75, 1], "format": ".2f"}},
                          "color": {"field": "method", "type": "nominal", "legend": null, "scale": {"domain": ["DECIPHER", "scVI", "Harmony", "Scanpy", "Banksy", "STAGATE", "SLAT", "scNiche-minibatch", "BASS", "STADIA", "GraphST"], "range": ["#3B4992", "#E8141B", "#2E7438", "#463A73", "#235B80", "#614654", "#962054", "#7A3A92", "#A3186E", "#858585", "#1E1E1E"]}}}},
            {"transform": [{"filter": "datum.kind == 'na'"}], "mark": {"type": "text", "text": "N.A.", "angle": 270, "align": "left", "baseline": "middle", "fontSize": 11, "color": "black"},
             "encoding": {"y": {"datum": 0, "type": "quantitative", "scale": {"domain": [-0.05, 1.05], "nice": false}, "axis": {"title": "Score", "values": [0, 0.25, 0.5, 0.75, 1], "format": ".2f"}}}}
          ]
        }
      ]
    },
    {
      "title": {"text": "c", "offset": 55, "dx": -40},
      "spacing": 9,
      "vconcat": [
        {
          "spacing": 48,
          "bounds": "flush",
          "hconcat": [
            {
              "width": 168, "height": 142,
              "transform": [{"filter": "datum.panel == 'c' && datum.dataset == 'Spatial batch ASW'"}],
              "encoding": {
                "x": {"field": "method", "type": "nominal", "scale": {"domain": ["DECIPHER", "scVI", "Harmony", "Scanpy", "Banksy", "STAGATE", "SLAT", "scNiche-minibatch", "BASS", "STADIA", "GraphST"], "paddingInner": 0.1, "paddingOuter": 0.15}, "axis": {"title": null, "labelAngle": -45, "labelAlign": "right", "labelBaseline": "top", "labelFontSize": 13, "labelColor": "black"}}
              },
              "layer": [
                {"transform": [{"filter": "datum.kind == 'bar'"}], "mark": {"type": "bar", "strokeWidth": 1.6},
                 "encoding": {"y": {"field": "score", "type": "quantitative", "scale": {"domain": [-0.05, 1.05], "nice": false}, "axis": {"title": "Spatial batch ASW", "values": [0, 0.25, 0.5, 0.75, 1], "format": ".2f"}},
                              "fill": {"field": "method", "type": "nominal", "title": "Method", "scale": {"domain": ["DECIPHER", "scVI", "Harmony", "Scanpy", "Banksy", "STAGATE", "SLAT", "scNiche-minibatch", "BASS", "STADIA", "GraphST"], "range": ["#9DA4C9", "#F28589", "#93B598", "#A19CB8", "#8DAABF", "#AB9CA6", "#CC8CA8", "#B99DCA", "#D187B5", "#B5B5B5", "#8C8C8C"]}},
                              "stroke": {"field": "method", "type": "nominal", "title": "Method", "scale": {"domain": ["DECIPHER", "scVI", "Harmony", "Scanpy", "Banksy", "STAGATE", "SLAT", "scNiche-minibatch", "BASS", "STADIA", "GraphST"], "range": ["#3B4992", "#E8141B", "#2E7438", "#463A73", "#235B80", "#614654", "#962054", "#7A3A92", "#A3186E", "#858585", "#1E1E1E"]}}}},
                {"transform": [{"filter": "isValid(datum.lo)"}], "mark": {"type": "rule", "strokeWidth": 0.8},
                 "encoding": {"y": {"field": "lo", "type": "quantitative", "scale": {"domain": [-0.05, 1.05], "nice": false}, "axis": {"title": "Spatial batch ASW", "values": [0, 0.25, 0.5, 0.75, 1], "format": ".2f"}}, "y2": {"field": "hi"},
                              "color": {"field": "method", "type": "nominal", "legend": null, "scale": {"domain": ["DECIPHER", "scVI", "Harmony", "Scanpy", "Banksy", "STAGATE", "SLAT", "scNiche-minibatch", "BASS", "STADIA", "GraphST"], "range": ["#3B4992", "#E8141B", "#2E7438", "#463A73", "#235B80", "#614654", "#962054", "#7A3A92", "#A3186E", "#858585", "#1E1E1E"]}}}},
                {"transform": [{"filter": "datum.kind != 'na'"}], "mark": {"type": "circle", "size": 11, "opacity": 1},
                 "encoding": {"y": {"field": "score", "type": "quantitative", "scale": {"domain": [-0.05, 1.05], "nice": false}, "axis": {"title": "Spatial batch ASW", "values": [0, 0.25, 0.5, 0.75, 1], "format": ".2f"}},
                              "color": {"field": "method", "type": "nominal", "legend": null, "scale": {"domain": ["DECIPHER", "scVI", "Harmony", "Scanpy", "Banksy", "STAGATE", "SLAT", "scNiche-minibatch", "BASS", "STADIA", "GraphST"], "range": ["#3B4992", "#E8141B", "#2E7438", "#463A73", "#235B80", "#614654", "#962054", "#7A3A92", "#A3186E", "#858585", "#1E1E1E"]}}}},
                {"transform": [{"filter": "datum.kind == 'na'"}], "mark": {"type": "text", "text": "N.A.", "angle": 270, "align": "left", "baseline": "middle", "fontSize": 11.5, "color": "black"},
                 "encoding": {"y": {"datum": 0, "type": "quantitative", "scale": {"domain": [-0.05, 1.05], "nice": false}, "axis": {"title": "Spatial batch ASW", "values": [0, 0.25, 0.5, 0.75, 1], "format": ".2f"}}}}
              ]
            },
            {
              "width": 168, "height": 142,
              "transform": [{"filter": "datum.panel == 'c' && datum.dataset == 'Spatial batch GC'"}],
              "encoding": {
                "x": {"field": "method", "type": "nominal", "scale": {"domain": ["DECIPHER", "scVI", "Harmony", "Scanpy", "Banksy", "STAGATE", "SLAT", "scNiche-minibatch", "BASS", "STADIA", "GraphST"], "paddingInner": 0.1, "paddingOuter": 0.15}, "axis": {"title": null, "labelAngle": -45, "labelAlign": "right", "labelBaseline": "top", "labelFontSize": 13, "labelColor": "black"}}
              },
              "layer": [
                {"transform": [{"filter": "datum.kind == 'bar'"}], "mark": {"type": "bar", "strokeWidth": 1.6},
                 "encoding": {"y": {"field": "score", "type": "quantitative", "scale": {"domain": [-0.05, 1.05], "nice": false}, "axis": {"title": "Spatial batch GC", "values": [0, 0.25, 0.5, 0.75, 1], "format": ".2f"}},
                              "fill": {"field": "method", "type": "nominal", "title": "Method", "scale": {"domain": ["DECIPHER", "scVI", "Harmony", "Scanpy", "Banksy", "STAGATE", "SLAT", "scNiche-minibatch", "BASS", "STADIA", "GraphST"], "range": ["#9DA4C9", "#F28589", "#93B598", "#A19CB8", "#8DAABF", "#AB9CA6", "#CC8CA8", "#B99DCA", "#D187B5", "#B5B5B5", "#8C8C8C"]}},
                              "stroke": {"field": "method", "type": "nominal", "title": "Method", "scale": {"domain": ["DECIPHER", "scVI", "Harmony", "Scanpy", "Banksy", "STAGATE", "SLAT", "scNiche-minibatch", "BASS", "STADIA", "GraphST"], "range": ["#3B4992", "#E8141B", "#2E7438", "#463A73", "#235B80", "#614654", "#962054", "#7A3A92", "#A3186E", "#858585", "#1E1E1E"]}}}},
                {"transform": [{"filter": "isValid(datum.lo)"}], "mark": {"type": "rule", "strokeWidth": 0.8},
                 "encoding": {"y": {"field": "lo", "type": "quantitative", "scale": {"domain": [-0.05, 1.05], "nice": false}, "axis": {"title": "Spatial batch GC", "values": [0, 0.25, 0.5, 0.75, 1], "format": ".2f"}}, "y2": {"field": "hi"},
                              "color": {"field": "method", "type": "nominal", "legend": null, "scale": {"domain": ["DECIPHER", "scVI", "Harmony", "Scanpy", "Banksy", "STAGATE", "SLAT", "scNiche-minibatch", "BASS", "STADIA", "GraphST"], "range": ["#3B4992", "#E8141B", "#2E7438", "#463A73", "#235B80", "#614654", "#962054", "#7A3A92", "#A3186E", "#858585", "#1E1E1E"]}}}},
                {"transform": [{"filter": "datum.kind != 'na'"}], "mark": {"type": "circle", "size": 11, "opacity": 1},
                 "encoding": {"y": {"field": "score", "type": "quantitative", "scale": {"domain": [-0.05, 1.05], "nice": false}, "axis": {"title": "Spatial batch GC", "values": [0, 0.25, 0.5, 0.75, 1], "format": ".2f"}},
                              "color": {"field": "method", "type": "nominal", "legend": null, "scale": {"domain": ["DECIPHER", "scVI", "Harmony", "Scanpy", "Banksy", "STAGATE", "SLAT", "scNiche-minibatch", "BASS", "STADIA", "GraphST"], "range": ["#3B4992", "#E8141B", "#2E7438", "#463A73", "#235B80", "#614654", "#962054", "#7A3A92", "#A3186E", "#858585", "#1E1E1E"]}}}},
                {"transform": [{"filter": "datum.kind == 'na'"}], "mark": {"type": "text", "text": "N.A.", "angle": 270, "align": "left", "baseline": "middle", "fontSize": 11.5, "color": "black"},
                 "encoding": {"y": {"datum": 0, "type": "quantitative", "scale": {"domain": [-0.05, 1.05], "nice": false}, "axis": {"title": "Spatial batch GC", "values": [0, 0.25, 0.5, 0.75, 1], "format": ".2f"}}}}
              ]
            },
            {
              "width": 168, "height": 142,
              "transform": [{"filter": "datum.panel == 'c' && datum.dataset == 'Spatial batch iLISI'"}],
              "encoding": {
                "x": {"field": "method", "type": "nominal", "scale": {"domain": ["DECIPHER", "scVI", "Harmony", "Scanpy", "Banksy", "STAGATE", "SLAT", "scNiche-minibatch", "BASS", "STADIA", "GraphST"], "paddingInner": 0.1, "paddingOuter": 0.15}, "axis": {"title": null, "labelAngle": -45, "labelAlign": "right", "labelBaseline": "top", "labelFontSize": 13, "labelColor": "black"}}
              },
              "layer": [
                {"transform": [{"filter": "datum.kind == 'bar'"}], "mark": {"type": "bar", "strokeWidth": 1.6},
                 "encoding": {"y": {"field": "score", "type": "quantitative", "scale": {"domain": [-0.05, 1.05], "nice": false}, "axis": {"title": "Spatial batch iLISI", "values": [0, 0.25, 0.5, 0.75, 1], "format": ".2f"}},
                              "fill": {"field": "method", "type": "nominal", "title": "Method", "scale": {"domain": ["DECIPHER", "scVI", "Harmony", "Scanpy", "Banksy", "STAGATE", "SLAT", "scNiche-minibatch", "BASS", "STADIA", "GraphST"], "range": ["#9DA4C9", "#F28589", "#93B598", "#A19CB8", "#8DAABF", "#AB9CA6", "#CC8CA8", "#B99DCA", "#D187B5", "#B5B5B5", "#8C8C8C"]}},
                              "stroke": {"field": "method", "type": "nominal", "title": "Method", "scale": {"domain": ["DECIPHER", "scVI", "Harmony", "Scanpy", "Banksy", "STAGATE", "SLAT", "scNiche-minibatch", "BASS", "STADIA", "GraphST"], "range": ["#3B4992", "#E8141B", "#2E7438", "#463A73", "#235B80", "#614654", "#962054", "#7A3A92", "#A3186E", "#858585", "#1E1E1E"]}}}},
                {"transform": [{"filter": "isValid(datum.lo)"}], "mark": {"type": "rule", "strokeWidth": 0.8},
                 "encoding": {"y": {"field": "lo", "type": "quantitative", "scale": {"domain": [-0.05, 1.05], "nice": false}, "axis": {"title": "Spatial batch iLISI", "values": [0, 0.25, 0.5, 0.75, 1], "format": ".2f"}}, "y2": {"field": "hi"},
                              "color": {"field": "method", "type": "nominal", "legend": null, "scale": {"domain": ["DECIPHER", "scVI", "Harmony", "Scanpy", "Banksy", "STAGATE", "SLAT", "scNiche-minibatch", "BASS", "STADIA", "GraphST"], "range": ["#3B4992", "#E8141B", "#2E7438", "#463A73", "#235B80", "#614654", "#962054", "#7A3A92", "#A3186E", "#858585", "#1E1E1E"]}}}},
                {"transform": [{"filter": "datum.kind != 'na'"}], "mark": {"type": "circle", "size": 11, "opacity": 1},
                 "encoding": {"y": {"field": "score", "type": "quantitative", "scale": {"domain": [-0.05, 1.05], "nice": false}, "axis": {"title": "Spatial batch iLISI", "values": [0, 0.25, 0.5, 0.75, 1], "format": ".2f"}},
                              "color": {"field": "method", "type": "nominal", "legend": null, "scale": {"domain": ["DECIPHER", "scVI", "Harmony", "Scanpy", "Banksy", "STAGATE", "SLAT", "scNiche-minibatch", "BASS", "STADIA", "GraphST"], "range": ["#3B4992", "#E8141B", "#2E7438", "#463A73", "#235B80", "#614654", "#962054", "#7A3A92", "#A3186E", "#858585", "#1E1E1E"]}}}},
                {"transform": [{"filter": "datum.kind == 'na'"}], "mark": {"type": "text", "text": "N.A.", "angle": 270, "align": "left", "baseline": "middle", "fontSize": 11.5, "color": "black"},
                 "encoding": {"y": {"datum": 0, "type": "quantitative", "scale": {"domain": [-0.05, 1.05], "nice": false}, "axis": {"title": "Spatial batch iLISI", "values": [0, 0.25, 0.5, 0.75, 1], "format": ".2f"}}}}
              ]
            },
            {
              "width": 168, "height": 142,
              "transform": [{"filter": "datum.panel == 'c' && datum.dataset == 'Spatial batch kBET'"}],
              "encoding": {
                "x": {"field": "method", "type": "nominal", "scale": {"domain": ["DECIPHER", "scVI", "Harmony", "Scanpy", "Banksy", "STAGATE", "SLAT", "scNiche-minibatch", "BASS", "STADIA", "GraphST"], "paddingInner": 0.1, "paddingOuter": 0.15}, "axis": {"title": null, "labelAngle": -45, "labelAlign": "right", "labelBaseline": "top", "labelFontSize": 13, "labelColor": "black"}}
              },
              "layer": [
                {"transform": [{"filter": "datum.kind == 'bar'"}], "mark": {"type": "bar", "strokeWidth": 1.6},
                 "encoding": {"y": {"field": "score", "type": "quantitative", "scale": {"domain": [-0.05, 1.05], "nice": false}, "axis": {"title": "Spatial batch kBET", "values": [0, 0.25, 0.5, 0.75, 1], "format": ".2f"}},
                              "fill": {"field": "method", "type": "nominal", "title": "Method", "scale": {"domain": ["DECIPHER", "scVI", "Harmony", "Scanpy", "Banksy", "STAGATE", "SLAT", "scNiche-minibatch", "BASS", "STADIA", "GraphST"], "range": ["#9DA4C9", "#F28589", "#93B598", "#A19CB8", "#8DAABF", "#AB9CA6", "#CC8CA8", "#B99DCA", "#D187B5", "#B5B5B5", "#8C8C8C"]},
                                       "legend": {"orient": "none", "legendX": 895, "legendY": 660}},
                              "stroke": {"field": "method", "type": "nominal", "title": "Method", "scale": {"domain": ["DECIPHER", "scVI", "Harmony", "Scanpy", "Banksy", "STAGATE", "SLAT", "scNiche-minibatch", "BASS", "STADIA", "GraphST"], "range": ["#3B4992", "#E8141B", "#2E7438", "#463A73", "#235B80", "#614654", "#962054", "#7A3A92", "#A3186E", "#858585", "#1E1E1E"]},
                                       "legend": {"orient": "none", "legendX": 895, "legendY": 660}}}},
                {"transform": [{"filter": "isValid(datum.lo)"}], "mark": {"type": "rule", "strokeWidth": 0.8},
                 "encoding": {"y": {"field": "lo", "type": "quantitative", "scale": {"domain": [-0.05, 1.05], "nice": false}, "axis": {"title": "Spatial batch kBET", "values": [0, 0.25, 0.5, 0.75, 1], "format": ".2f"}}, "y2": {"field": "hi"},
                              "color": {"field": "method", "type": "nominal", "legend": null, "scale": {"domain": ["DECIPHER", "scVI", "Harmony", "Scanpy", "Banksy", "STAGATE", "SLAT", "scNiche-minibatch", "BASS", "STADIA", "GraphST"], "range": ["#3B4992", "#E8141B", "#2E7438", "#463A73", "#235B80", "#614654", "#962054", "#7A3A92", "#A3186E", "#858585", "#1E1E1E"]}}}},
                {"transform": [{"filter": "datum.kind != 'na'"}], "mark": {"type": "circle", "size": 11, "opacity": 1},
                 "encoding": {"y": {"field": "score", "type": "quantitative", "scale": {"domain": [-0.05, 1.05], "nice": false}, "axis": {"title": "Spatial batch kBET", "values": [0, 0.25, 0.5, 0.75, 1], "format": ".2f"}},
                              "color": {"field": "method", "type": "nominal", "legend": null, "scale": {"domain": ["DECIPHER", "scVI", "Harmony", "Scanpy", "Banksy", "STAGATE", "SLAT", "scNiche-minibatch", "BASS", "STADIA", "GraphST"], "range": ["#3B4992", "#E8141B", "#2E7438", "#463A73", "#235B80", "#614654", "#962054", "#7A3A92", "#A3186E", "#858585", "#1E1E1E"]}}}},
                {"transform": [{"filter": "datum.kind == 'na'"}], "mark": {"type": "text", "text": "N.A.", "angle": 270, "align": "left", "baseline": "middle", "fontSize": 11.5, "color": "black"},
                 "encoding": {"y": {"datum": 0, "type": "quantitative", "scale": {"domain": [-0.05, 1.05], "nice": false}, "axis": {"title": "Spatial batch kBET", "values": [0, 0.25, 0.5, 0.75, 1], "format": ".2f"}}}}
              ]
            }
          ]
        },
        {
          "spacing": 48,
          "bounds": "flush",
          "hconcat": [
            {
              "width": 168, "height": 142,
              "transform": [{"filter": "datum.panel == 'c' && datum.dataset == 'Omics batch ASW'"}],
              "encoding": {
                "x": {"field": "method", "type": "nominal", "scale": {"domain": ["DECIPHER", "scVI", "Harmony", "Scanpy", "Banksy", "STAGATE", "SLAT", "scNiche-minibatch", "BASS", "STADIA", "GraphST"], "paddingInner": 0.1, "paddingOuter": 0.15}, "axis": {"title": null, "labelAngle": -45, "labelAlign": "right", "labelBaseline": "top", "labelFontSize": 13, "labelColor": "black"}}
              },
              "layer": [
                {"transform": [{"filter": "datum.kind == 'bar'"}], "mark": {"type": "bar", "strokeWidth": 1.6},
                 "encoding": {"y": {"field": "score", "type": "quantitative", "scale": {"domain": [-0.05, 1.05], "nice": false}, "axis": {"title": "Omics batch ASW", "values": [0, 0.25, 0.5, 0.75, 1], "format": ".2f"}},
                              "fill": {"field": "method", "type": "nominal", "title": "Method", "scale": {"domain": ["DECIPHER", "scVI", "Harmony", "Scanpy", "Banksy", "STAGATE", "SLAT", "scNiche-minibatch", "BASS", "STADIA", "GraphST"], "range": ["#9DA4C9", "#F28589", "#93B598", "#A19CB8", "#8DAABF", "#AB9CA6", "#CC8CA8", "#B99DCA", "#D187B5", "#B5B5B5", "#8C8C8C"]}},
                              "stroke": {"field": "method", "type": "nominal", "title": "Method", "scale": {"domain": ["DECIPHER", "scVI", "Harmony", "Scanpy", "Banksy", "STAGATE", "SLAT", "scNiche-minibatch", "BASS", "STADIA", "GraphST"], "range": ["#3B4992", "#E8141B", "#2E7438", "#463A73", "#235B80", "#614654", "#962054", "#7A3A92", "#A3186E", "#858585", "#1E1E1E"]}}}},
                {"transform": [{"filter": "isValid(datum.lo)"}], "mark": {"type": "rule", "strokeWidth": 0.8},
                 "encoding": {"y": {"field": "lo", "type": "quantitative", "scale": {"domain": [-0.05, 1.05], "nice": false}, "axis": {"title": "Omics batch ASW", "values": [0, 0.25, 0.5, 0.75, 1], "format": ".2f"}}, "y2": {"field": "hi"},
                              "color": {"field": "method", "type": "nominal", "legend": null, "scale": {"domain": ["DECIPHER", "scVI", "Harmony", "Scanpy", "Banksy", "STAGATE", "SLAT", "scNiche-minibatch", "BASS", "STADIA", "GraphST"], "range": ["#3B4992", "#E8141B", "#2E7438", "#463A73", "#235B80", "#614654", "#962054", "#7A3A92", "#A3186E", "#858585", "#1E1E1E"]}}}},
                {"transform": [{"filter": "datum.kind != 'na'"}], "mark": {"type": "circle", "size": 11, "opacity": 1},
                 "encoding": {"y": {"field": "score", "type": "quantitative", "scale": {"domain": [-0.05, 1.05], "nice": false}, "axis": {"title": "Omics batch ASW", "values": [0, 0.25, 0.5, 0.75, 1], "format": ".2f"}},
                              "color": {"field": "method", "type": "nominal", "legend": null, "scale": {"domain": ["DECIPHER", "scVI", "Harmony", "Scanpy", "Banksy", "STAGATE", "SLAT", "scNiche-minibatch", "BASS", "STADIA", "GraphST"], "range": ["#3B4992", "#E8141B", "#2E7438", "#463A73", "#235B80", "#614654", "#962054", "#7A3A92", "#A3186E", "#858585", "#1E1E1E"]}}}},
                {"transform": [{"filter": "datum.kind == 'na'"}], "mark": {"type": "text", "text": "N.A.", "angle": 270, "align": "left", "baseline": "middle", "fontSize": 11.5, "color": "black"},
                 "encoding": {"y": {"datum": 0, "type": "quantitative", "scale": {"domain": [-0.05, 1.05], "nice": false}, "axis": {"title": "Omics batch ASW", "values": [0, 0.25, 0.5, 0.75, 1], "format": ".2f"}}}}
              ]
            },
            {
              "width": 168, "height": 142,
              "transform": [{"filter": "datum.panel == 'c' && datum.dataset == 'Omics batch GC'"}],
              "encoding": {
                "x": {"field": "method", "type": "nominal", "scale": {"domain": ["DECIPHER", "scVI", "Harmony", "Scanpy", "Banksy", "STAGATE", "SLAT", "scNiche-minibatch", "BASS", "STADIA", "GraphST"], "paddingInner": 0.1, "paddingOuter": 0.15}, "axis": {"title": null, "labelAngle": -45, "labelAlign": "right", "labelBaseline": "top", "labelFontSize": 13, "labelColor": "black"}}
              },
              "layer": [
                {"transform": [{"filter": "datum.kind == 'bar'"}], "mark": {"type": "bar", "strokeWidth": 1.6},
                 "encoding": {"y": {"field": "score", "type": "quantitative", "scale": {"domain": [-0.05, 1.05], "nice": false}, "axis": {"title": "Omics batch GC", "values": [0, 0.25, 0.5, 0.75, 1], "format": ".2f"}},
                              "fill": {"field": "method", "type": "nominal", "title": "Method", "scale": {"domain": ["DECIPHER", "scVI", "Harmony", "Scanpy", "Banksy", "STAGATE", "SLAT", "scNiche-minibatch", "BASS", "STADIA", "GraphST"], "range": ["#9DA4C9", "#F28589", "#93B598", "#A19CB8", "#8DAABF", "#AB9CA6", "#CC8CA8", "#B99DCA", "#D187B5", "#B5B5B5", "#8C8C8C"]}},
                              "stroke": {"field": "method", "type": "nominal", "title": "Method", "scale": {"domain": ["DECIPHER", "scVI", "Harmony", "Scanpy", "Banksy", "STAGATE", "SLAT", "scNiche-minibatch", "BASS", "STADIA", "GraphST"], "range": ["#3B4992", "#E8141B", "#2E7438", "#463A73", "#235B80", "#614654", "#962054", "#7A3A92", "#A3186E", "#858585", "#1E1E1E"]}}}},
                {"transform": [{"filter": "isValid(datum.lo)"}], "mark": {"type": "rule", "strokeWidth": 0.8},
                 "encoding": {"y": {"field": "lo", "type": "quantitative", "scale": {"domain": [-0.05, 1.05], "nice": false}, "axis": {"title": "Omics batch GC", "values": [0, 0.25, 0.5, 0.75, 1], "format": ".2f"}}, "y2": {"field": "hi"},
                              "color": {"field": "method", "type": "nominal", "legend": null, "scale": {"domain": ["DECIPHER", "scVI", "Harmony", "Scanpy", "Banksy", "STAGATE", "SLAT", "scNiche-minibatch", "BASS", "STADIA", "GraphST"], "range": ["#3B4992", "#E8141B", "#2E7438", "#463A73", "#235B80", "#614654", "#962054", "#7A3A92", "#A3186E", "#858585", "#1E1E1E"]}}}},
                {"transform": [{"filter": "datum.kind != 'na'"}], "mark": {"type": "circle", "size": 11, "opacity": 1},
                 "encoding": {"y": {"field": "score", "type": "quantitative", "scale": {"domain": [-0.05, 1.05], "nice": false}, "axis": {"title": "Omics batch GC", "values": [0, 0.25, 0.5, 0.75, 1], "format": ".2f"}},
                              "color": {"field": "method", "type": "nominal", "legend": null, "scale": {"domain": ["DECIPHER", "scVI", "Harmony", "Scanpy", "Banksy", "STAGATE", "SLAT", "scNiche-minibatch", "BASS", "STADIA", "GraphST"], "range": ["#3B4992", "#E8141B", "#2E7438", "#463A73", "#235B80", "#614654", "#962054", "#7A3A92", "#A3186E", "#858585", "#1E1E1E"]}}}},
                {"transform": [{"filter": "datum.kind == 'na'"}], "mark": {"type": "text", "text": "N.A.", "angle": 270, "align": "left", "baseline": "middle", "fontSize": 11.5, "color": "black"},
                 "encoding": {"y": {"datum": 0, "type": "quantitative", "scale": {"domain": [-0.05, 1.05], "nice": false}, "axis": {"title": "Omics batch GC", "values": [0, 0.25, 0.5, 0.75, 1], "format": ".2f"}}}}
              ]
            },
            {
              "width": 168, "height": 142,
              "transform": [{"filter": "datum.panel == 'c' && datum.dataset == 'Omics batch iLISI'"}],
              "encoding": {
                "x": {"field": "method", "type": "nominal", "scale": {"domain": ["DECIPHER", "scVI", "Harmony", "Scanpy", "Banksy", "STAGATE", "SLAT", "scNiche-minibatch", "BASS", "STADIA", "GraphST"], "paddingInner": 0.1, "paddingOuter": 0.15}, "axis": {"title": null, "labelAngle": -45, "labelAlign": "right", "labelBaseline": "top", "labelFontSize": 13, "labelColor": "black"}}
              },
              "layer": [
                {"transform": [{"filter": "datum.kind == 'bar'"}], "mark": {"type": "bar", "strokeWidth": 1.6},
                 "encoding": {"y": {"field": "score", "type": "quantitative", "scale": {"domain": [-0.05, 1.05], "nice": false}, "axis": {"title": "Omics batch iLISI", "values": [0, 0.25, 0.5, 0.75, 1], "format": ".2f"}},
                              "fill": {"field": "method", "type": "nominal", "title": "Method", "scale": {"domain": ["DECIPHER", "scVI", "Harmony", "Scanpy", "Banksy", "STAGATE", "SLAT", "scNiche-minibatch", "BASS", "STADIA", "GraphST"], "range": ["#9DA4C9", "#F28589", "#93B598", "#A19CB8", "#8DAABF", "#AB9CA6", "#CC8CA8", "#B99DCA", "#D187B5", "#B5B5B5", "#8C8C8C"]}},
                              "stroke": {"field": "method", "type": "nominal", "title": "Method", "scale": {"domain": ["DECIPHER", "scVI", "Harmony", "Scanpy", "Banksy", "STAGATE", "SLAT", "scNiche-minibatch", "BASS", "STADIA", "GraphST"], "range": ["#3B4992", "#E8141B", "#2E7438", "#463A73", "#235B80", "#614654", "#962054", "#7A3A92", "#A3186E", "#858585", "#1E1E1E"]}}}},
                {"transform": [{"filter": "isValid(datum.lo)"}], "mark": {"type": "rule", "strokeWidth": 0.8},
                 "encoding": {"y": {"field": "lo", "type": "quantitative", "scale": {"domain": [-0.05, 1.05], "nice": false}, "axis": {"title": "Omics batch iLISI", "values": [0, 0.25, 0.5, 0.75, 1], "format": ".2f"}}, "y2": {"field": "hi"},
                              "color": {"field": "method", "type": "nominal", "legend": null, "scale": {"domain": ["DECIPHER", "scVI", "Harmony", "Scanpy", "Banksy", "STAGATE", "SLAT", "scNiche-minibatch", "BASS", "STADIA", "GraphST"], "range": ["#3B4992", "#E8141B", "#2E7438", "#463A73", "#235B80", "#614654", "#962054", "#7A3A92", "#A3186E", "#858585", "#1E1E1E"]}}}},
                {"transform": [{"filter": "datum.kind != 'na'"}], "mark": {"type": "circle", "size": 11, "opacity": 1},
                 "encoding": {"y": {"field": "score", "type": "quantitative", "scale": {"domain": [-0.05, 1.05], "nice": false}, "axis": {"title": "Omics batch iLISI", "values": [0, 0.25, 0.5, 0.75, 1], "format": ".2f"}},
                              "color": {"field": "method", "type": "nominal", "legend": null, "scale": {"domain": ["DECIPHER", "scVI", "Harmony", "Scanpy", "Banksy", "STAGATE", "SLAT", "scNiche-minibatch", "BASS", "STADIA", "GraphST"], "range": ["#3B4992", "#E8141B", "#2E7438", "#463A73", "#235B80", "#614654", "#962054", "#7A3A92", "#A3186E", "#858585", "#1E1E1E"]}}}},
                {"transform": [{"filter": "datum.kind == 'na'"}], "mark": {"type": "text", "text": "N.A.", "angle": 270, "align": "left", "baseline": "middle", "fontSize": 11.5, "color": "black"},
                 "encoding": {"y": {"datum": 0, "type": "quantitative", "scale": {"domain": [-0.05, 1.05], "nice": false}, "axis": {"title": "Omics batch iLISI", "values": [0, 0.25, 0.5, 0.75, 1], "format": ".2f"}}}}
              ]
            },
            {
              "width": 168, "height": 142,
              "transform": [{"filter": "datum.panel == 'c' && datum.dataset == 'Omics batch kBET'"}],
              "encoding": {
                "x": {"field": "method", "type": "nominal", "scale": {"domain": ["DECIPHER", "scVI", "Harmony", "Scanpy", "Banksy", "STAGATE", "SLAT", "scNiche-minibatch", "BASS", "STADIA", "GraphST"], "paddingInner": 0.1, "paddingOuter": 0.15}, "axis": {"title": null, "labelAngle": -45, "labelAlign": "right", "labelBaseline": "top", "labelFontSize": 13, "labelColor": "black"}}
              },
              "layer": [
                {"transform": [{"filter": "datum.kind == 'bar'"}], "mark": {"type": "bar", "strokeWidth": 1.6},
                 "encoding": {"y": {"field": "score", "type": "quantitative", "scale": {"domain": [-0.05, 1.05], "nice": false}, "axis": {"title": "Omics batch kBET", "values": [0, 0.25, 0.5, 0.75, 1], "format": ".2f"}},
                              "fill": {"field": "method", "type": "nominal", "title": "Method", "scale": {"domain": ["DECIPHER", "scVI", "Harmony", "Scanpy", "Banksy", "STAGATE", "SLAT", "scNiche-minibatch", "BASS", "STADIA", "GraphST"], "range": ["#9DA4C9", "#F28589", "#93B598", "#A19CB8", "#8DAABF", "#AB9CA6", "#CC8CA8", "#B99DCA", "#D187B5", "#B5B5B5", "#8C8C8C"]}},
                              "stroke": {"field": "method", "type": "nominal", "title": "Method", "scale": {"domain": ["DECIPHER", "scVI", "Harmony", "Scanpy", "Banksy", "STAGATE", "SLAT", "scNiche-minibatch", "BASS", "STADIA", "GraphST"], "range": ["#3B4992", "#E8141B", "#2E7438", "#463A73", "#235B80", "#614654", "#962054", "#7A3A92", "#A3186E", "#858585", "#1E1E1E"]}}}},
                {"transform": [{"filter": "isValid(datum.lo)"}], "mark": {"type": "rule", "strokeWidth": 0.8},
                 "encoding": {"y": {"field": "lo", "type": "quantitative", "scale": {"domain": [-0.05, 1.05], "nice": false}, "axis": {"title": "Omics batch kBET", "values": [0, 0.25, 0.5, 0.75, 1], "format": ".2f"}}, "y2": {"field": "hi"},
                              "color": {"field": "method", "type": "nominal", "legend": null, "scale": {"domain": ["DECIPHER", "scVI", "Harmony", "Scanpy", "Banksy", "STAGATE", "SLAT", "scNiche-minibatch", "BASS", "STADIA", "GraphST"], "range": ["#3B4992", "#E8141B", "#2E7438", "#463A73", "#235B80", "#614654", "#962054", "#7A3A92", "#A3186E", "#858585", "#1E1E1E"]}}}},
                {"transform": [{"filter": "datum.kind != 'na'"}], "mark": {"type": "circle", "size": 11, "opacity": 1},
                 "encoding": {"y": {"field": "score", "type": "quantitative", "scale": {"domain": [-0.05, 1.05], "nice": false}, "axis": {"title": "Omics batch kBET", "values": [0, 0.25, 0.5, 0.75, 1], "format": ".2f"}},
                              "color": {"field": "method", "type": "nominal", "legend": null, "scale": {"domain": ["DECIPHER", "scVI", "Harmony", "Scanpy", "Banksy", "STAGATE", "SLAT", "scNiche-minibatch", "BASS", "STADIA", "GraphST"], "range": ["#3B4992", "#E8141B", "#2E7438", "#463A73", "#235B80", "#614654", "#962054", "#7A3A92", "#A3186E", "#858585", "#1E1E1E"]}}}},
                {"transform": [{"filter": "datum.kind == 'na'"}], "mark": {"type": "text", "text": "N.A.", "angle": 270, "align": "left", "baseline": "middle", "fontSize": 11.5, "color": "black"},
                 "encoding": {"y": {"datum": 0, "type": "quantitative", "scale": {"domain": [-0.05, 1.05], "nice": false}, "axis": {"title": "Omics batch kBET", "values": [0, 0.25, 0.5, 0.75, 1], "format": ".2f"}}}}
              ]
            }
          ]
        }
      ]
    }
  ],
  "spacing": 16,
  "config": {
    "font": "Liberation Sans",
    "view": {"stroke": null},
    "axis": {"grid": false, "domainColor": "#333333", "tickColor": "#333333", "labelColor": "#333333", "labelFontSize": 11, "titleFontSize": 12.5, "titleFontWeight": "normal", "titleColor": "black", "tickSize": 3.5, "domainWidth": 1.1, "tickWidth": 1.1, "labelPadding": 2, "titlePadding": 5},
    "title": {"fontSize": 22, "fontWeight": "bold", "anchor": "start", "frame": "group", "color": "black"},
    "legend": {"titleFontSize": 13, "titleFontWeight": "normal", "titleColor": "black", "labelFontSize": 13, "labelColor": "black", "symbolType": "square", "symbolSize": 150, "symbolStrokeWidth": 1.6, "clipHeight": 14, "rowPadding": 0.2, "titlePadding": 4, "labelLimit": 200}
  }
}
